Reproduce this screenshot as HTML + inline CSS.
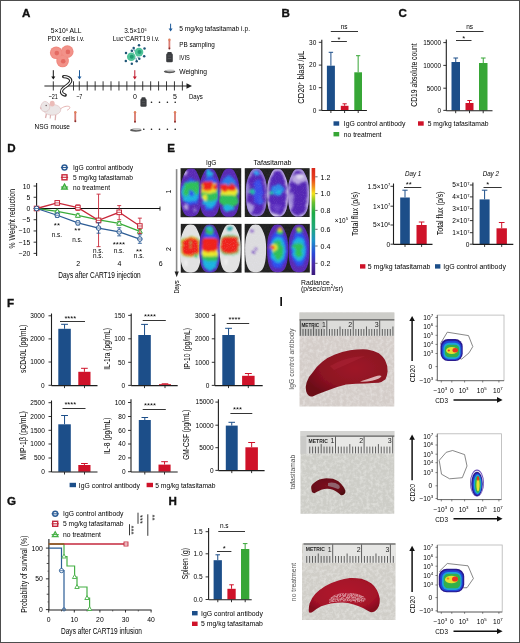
<!DOCTYPE html><html><head><meta charset="utf-8"><style>html,body{margin:0;padding:0;background:#fff;overflow:hidden}svg{display:block;will-change:transform}text{font-family:"Liberation Sans",sans-serif}</style></head><body>
<svg width="520" height="643" viewBox="0 0 520 643">
<rect x="0" y="0" width="520" height="643" fill="#fff"/>
<text x="21.90" y="16.70" font-size="11.6" fill="#111" font-weight="bold" stroke="#111" stroke-width="0.35">A</text>
<text x="50.70" y="33.40" font-size="7.4" textLength="30.80" lengthAdjust="spacingAndGlyphs">5×10<tspan dy="-2.6" font-size="4.2">6</tspan><tspan dy="2.6"> ALL</tspan></text>
<text x="47.60" y="40.90" font-size="7.4" textLength="36.90" lengthAdjust="spacingAndGlyphs">PDX cells i.v.</text>
<text x="124.20" y="33.40" font-size="7.4" textLength="22.30" lengthAdjust="spacingAndGlyphs">3.5×10<tspan dy="-2.6" font-size="4.2">6</tspan></text>
<text x="112.70" y="40.90" font-size="7.4" textLength="46.90" lengthAdjust="spacingAndGlyphs">Luc<tspan dy="-2.6" font-size="4.2">+</tspan><tspan dy="2.6">CART19 i.v.</tspan></text>
<g filter="url(#bl3)">
<circle cx="56.2" cy="52.8" r="6.3" fill="#f08a80"/>
<circle cx="67.3" cy="51.6" r="6.3" fill="#f08a80"/>
<circle cx="62.6" cy="61.0" r="6.3" fill="#f08a80"/>
<circle cx="56.2" cy="52.8" r="5.3" fill="#f29289"/>
<circle cx="56.800000000000004" cy="53.099999999999994" r="2.3" fill="#e46a62"/>
<circle cx="67.3" cy="51.6" r="5.3" fill="#f29289"/>
<circle cx="67.89999999999999" cy="51.9" r="2.3" fill="#e46a62"/>
<circle cx="62.6" cy="61.0" r="5.3" fill="#f29289"/>
<circle cx="63.2" cy="61.3" r="2.3" fill="#e46a62"/>
</g>
<line x1="139.30" y1="58.75" x2="137.25" y2="56.58" stroke="#2e6d9a" stroke-width="0.8"/>
<line x1="136.70" y1="61.35" x2="135.95" y2="57.88" stroke="#2e6d9a" stroke-width="0.8"/>
<line x1="133.70" y1="48.10" x2="134.45" y2="51.25" stroke="#2e6d9a" stroke-width="0.8"/>
<line x1="131.80" y1="50.70" x2="133.50" y2="52.55" stroke="#2e6d9a" stroke-width="0.8"/>
<circle cx="139.0" cy="52.1" r="4.3" fill="#52c49a"/>
<circle cx="139.5" cy="52.1" r="2.0" fill="#1f9b73"/>
<circle cx="131.25" cy="56.7" r="4.3" fill="#52c49a"/>
<circle cx="131.75" cy="56.7" r="2.0" fill="#1f9b73"/>
<circle cx="139" cy="45.2" r="1.25" fill="#1f5577"/>
<circle cx="144.5" cy="48.4" r="1.25" fill="#1f5577"/>
<circle cx="144.2" cy="56.2" r="1.25" fill="#1f5577"/>
<circle cx="139.3" cy="58.75" r="1.25" fill="#1f5577"/>
<circle cx="136.7" cy="61.35" r="1.25" fill="#1f5577"/>
<circle cx="131.8" cy="63.7" r="1.25" fill="#1f5577"/>
<circle cx="125.8" cy="61.1" r="1.25" fill="#1f5577"/>
<circle cx="126" cy="53" r="1.25" fill="#1f5577"/>
<circle cx="131.8" cy="50.7" r="1.25" fill="#1f5577"/>
<circle cx="133.7" cy="48.1" r="1.25" fill="#1f5577"/>
<line x1="44.40" y1="86.00" x2="188.50" y2="86.00" stroke="#222" stroke-width="1.2"/>
<path d="M186.5 83.2 L192 86.0 L186.5 88.8 Z" fill="#222"/>
<line x1="53.30" y1="81.30" x2="53.30" y2="90.50" stroke="#222" stroke-width="0.9"/>
<line x1="73.50" y1="81.30" x2="73.50" y2="90.50" stroke="#222" stroke-width="0.9"/>
<line x1="79.29" y1="81.30" x2="79.29" y2="90.50" stroke="#222" stroke-width="0.9"/>
<line x1="87.22" y1="81.30" x2="87.22" y2="90.50" stroke="#222" stroke-width="0.9"/>
<line x1="95.15" y1="81.30" x2="95.15" y2="90.50" stroke="#222" stroke-width="0.9"/>
<line x1="103.08" y1="81.30" x2="103.08" y2="90.50" stroke="#222" stroke-width="0.9"/>
<line x1="111.01" y1="81.30" x2="111.01" y2="90.50" stroke="#222" stroke-width="0.9"/>
<line x1="118.94" y1="81.30" x2="118.94" y2="90.50" stroke="#222" stroke-width="0.9"/>
<line x1="126.87" y1="81.30" x2="126.87" y2="90.50" stroke="#222" stroke-width="0.9"/>
<line x1="134.80" y1="81.30" x2="134.80" y2="90.50" stroke="#222" stroke-width="0.9"/>
<line x1="142.73" y1="81.30" x2="142.73" y2="90.50" stroke="#222" stroke-width="0.9"/>
<line x1="150.66" y1="81.30" x2="150.66" y2="90.50" stroke="#222" stroke-width="0.9"/>
<line x1="158.59" y1="81.30" x2="158.59" y2="90.50" stroke="#222" stroke-width="0.9"/>
<line x1="166.52" y1="81.30" x2="166.52" y2="90.50" stroke="#222" stroke-width="0.9"/>
<line x1="174.45" y1="81.30" x2="174.45" y2="90.50" stroke="#222" stroke-width="0.9"/>
<line x1="182.38" y1="81.30" x2="182.38" y2="90.50" stroke="#222" stroke-width="0.9"/>
<path d="M63.6 76.6 C67.4 76.6 70.9 78.2 70.7 80.9 C70.5 83.6 66.2 85.9 63.6 88.0 C60.6 90.5 60.4 93.6 65.2 95.1" fill="none" stroke="#262626" stroke-width="3.3" stroke-linecap="round"/>
<path d="M63.6 76.6 C67.4 76.6 70.9 78.2 70.7 80.9 C70.5 83.6 66.2 85.9 63.6 88.0 C60.6 90.5 60.4 93.6 65.2 95.1" fill="none" stroke="#fff" stroke-width="1.1"/>
<line x1="53.30" y1="70.20" x2="53.30" y2="77.10" stroke="#111" stroke-width="1.0"/>
<path d="M51.3 76.6 L53.3 79.6 L55.3 76.6 Z" fill="#111"/>
<line x1="79.50" y1="70.20" x2="79.50" y2="77.10" stroke="#1d5a9a" stroke-width="1.0"/>
<path d="M77.5 76.6 L79.5 79.6 L81.5 76.6 Z" fill="#1d5a9a"/>
<line x1="134.80" y1="70.20" x2="134.80" y2="77.10" stroke="#c0182b" stroke-width="1.0"/>
<path d="M132.8 76.6 L134.8 79.6 L136.8 76.6 Z" fill="#c0182b"/>
<text x="48.50" y="99.40" font-size="7.0" textLength="9.40" lengthAdjust="spacingAndGlyphs">−21</text>
<text x="76.20" y="99.40" font-size="7.0" textLength="6.20" lengthAdjust="spacingAndGlyphs">−7</text>
<text x="135.00" y="99.40" font-size="7.0" text-anchor="middle">0</text>
<text x="175.00" y="99.40" font-size="7.0" text-anchor="middle">5</text>
<text x="188.90" y="99.40" font-size="7.0" textLength="13.80" lengthAdjust="spacingAndGlyphs">Days</text>
<line x1="170.60" y1="23.70" x2="170.60" y2="29.00" stroke="#1d5a9a" stroke-width="1.0"/>
<path d="M168.6 28.5 L170.6 31.5 L172.6 28.5 Z" fill="#1d5a9a"/>
<line x1="169.40" y1="39.70" x2="169.40" y2="48.00" stroke="#d06a60" stroke-width="1.7"/>
<line x1="169.40" y1="41.50" x2="169.40" y2="46.50" stroke="#e89088" stroke-width="0.6"/>
<circle cx="169.4" cy="39.7" r="1.2" fill="#e0805c"/>
<circle cx="169.4" cy="48.5" r="1.0" fill="#8a2a28"/>
<rect x="166.2" y="53.5" width="6.6" height="8.7" rx="1.3" fill="#3b3d40"/>
<rect x="167.2" y="52.0" width="4.6" height="2.5" rx="1" fill="#3b3d40"/>
<line x1="167.70" y1="56.00" x2="171.30" y2="56.00" stroke="#6a6c70" stroke-width="0.5"/>
<line x1="167.70" y1="58.50" x2="171.30" y2="58.50" stroke="#6a6c70" stroke-width="0.5"/>
<ellipse cx="169.55" cy="71.6" rx="5.75" ry="1.6" fill="#5a5a5a"/>
<ellipse cx="170.35000000000002" cy="70.5" rx="4.25" ry="1.1" fill="#c8c8c8"/>
<text x="179.20" y="30.90" font-size="7.7" textLength="70.80" lengthAdjust="spacingAndGlyphs">5 mg/kg tafasitamab i.p.</text>
<text x="179.20" y="46.50" font-size="7.7" textLength="35.60" lengthAdjust="spacingAndGlyphs">PB sampling</text>
<text x="179.20" y="59.70" font-size="7.7" textLength="10.60" lengthAdjust="spacingAndGlyphs">IVIS</text>
<text x="179.20" y="73.50" font-size="7.7" textLength="27.80" lengthAdjust="spacingAndGlyphs">Weighing</text>
<path d="M59.8 109.5 C63 106.5 67 105.6 69.4 106.6 C70.6 107.4 69.4 109.2 67.2 110.2" fill="none" stroke="#e2aaa8" stroke-width="0.9"/>
<line x1="46.40" y1="114.00" x2="45.50" y2="118.00" stroke="#dcb0b0" stroke-width="1.3"/>
<line x1="55.70" y1="114.50" x2="55.20" y2="120.30" stroke="#dcb0b0" stroke-width="1.3"/>
<line x1="50.50" y1="114.80" x2="50.20" y2="118.50" stroke="#dcb0b0" stroke-width="1.1"/>
<ellipse cx="52.2" cy="109.8" rx="8.6" ry="5.4" fill="#ebe6e6" stroke="#dcb8b8" stroke-width="0.6"/>
<path d="M40.4 107.6 C41 104.5 42.6 101.8 44.6 101.4 C47 101.2 49.2 103.5 49.8 106.2 C50 109.5 47.5 112 44.2 111.6 C42.2 111.3 40.6 109.6 40.4 107.6 Z" fill="#ebe6e6" stroke="#dcb8b8" stroke-width="0.6"/>
<ellipse cx="52.2" cy="103.6" rx="2.5" ry="2.9" fill="#ebbcb8"/>
<circle cx="46.2" cy="105.6" r="0.75" fill="#6a5a5a"/>
<ellipse cx="40.9" cy="107.9" rx="0.6" ry="0.5" fill="#d89090"/>
<line x1="75.30" y1="112.20" x2="75.30" y2="120.80" stroke="#d06a60" stroke-width="1.7"/>
<line x1="75.30" y1="114.00" x2="75.30" y2="119.30" stroke="#e89088" stroke-width="0.6"/>
<circle cx="75.3" cy="112.2" r="1.2" fill="#e0805c"/>
<circle cx="75.3" cy="121.3" r="1.0" fill="#8a2a28"/>
<text x="34.60" y="128.50" font-size="7.7" textLength="35.40" lengthAdjust="spacingAndGlyphs">NSG mouse</text>
<rect x="140.4" y="98.8" width="6.2" height="7.9" rx="1.3" fill="#3b3d40"/>
<rect x="141.4" y="97.3" width="4.2" height="2.5" rx="1" fill="#3b3d40"/>
<line x1="141.90" y1="101.30" x2="145.10" y2="101.30" stroke="#6a6c70" stroke-width="0.5"/>
<line x1="141.90" y1="103.80" x2="145.10" y2="103.80" stroke="#6a6c70" stroke-width="0.5"/>
<circle cx="151.5" cy="102.2" r="0.8" fill="#111"/>
<circle cx="159.5" cy="102.2" r="0.8" fill="#111"/>
<circle cx="167.4" cy="102.2" r="0.8" fill="#111"/>
<circle cx="175.2" cy="102.2" r="0.8" fill="#111"/>
<line x1="135.00" y1="112.20" x2="135.00" y2="121.20" stroke="#d06a60" stroke-width="1.7"/>
<line x1="135.00" y1="114.00" x2="135.00" y2="119.70" stroke="#e89088" stroke-width="0.6"/>
<circle cx="135.0" cy="112.2" r="1.2" fill="#e0805c"/>
<circle cx="135.0" cy="121.7" r="1.0" fill="#8a2a28"/>
<line x1="175.00" y1="112.20" x2="175.00" y2="121.20" stroke="#d06a60" stroke-width="1.7"/>
<line x1="175.00" y1="114.00" x2="175.00" y2="119.70" stroke="#e89088" stroke-width="0.6"/>
<circle cx="175.0" cy="112.2" r="1.2" fill="#e0805c"/>
<circle cx="175.0" cy="121.7" r="1.0" fill="#8a2a28"/>
<ellipse cx="135.8" cy="130.2" rx="5.799999999999997" ry="1.6" fill="#5a5a5a"/>
<ellipse cx="136.60000000000002" cy="129.1" rx="4.299999999999997" ry="1.1" fill="#c8c8c8"/>
<circle cx="143.8" cy="129.3" r="0.8" fill="#111"/>
<circle cx="151.5" cy="129.3" r="0.8" fill="#111"/>
<circle cx="159.5" cy="129.3" r="0.8" fill="#111"/>
<circle cx="167.4" cy="129.3" r="0.8" fill="#111"/>
<circle cx="175.2" cy="129.3" r="0.8" fill="#111"/>
<text x="281.40" y="16.50" font-size="11.6" fill="#111" font-weight="bold" stroke="#111" stroke-width="0.35">B</text>
<line x1="321.80" y1="39.70" x2="321.80" y2="110.50" stroke="#1e1e1e" stroke-width="1.1"/>
<line x1="318.80" y1="42.30" x2="321.80" y2="42.30" stroke="#1e1e1e" stroke-width="0.9"/>
<text x="316.30" y="44.64" font-size="6.5" text-anchor="end">30</text>
<line x1="318.80" y1="65.10" x2="321.80" y2="65.10" stroke="#1e1e1e" stroke-width="0.9"/>
<text x="316.30" y="67.44" font-size="6.5" text-anchor="end">20</text>
<line x1="318.80" y1="87.70" x2="321.80" y2="87.70" stroke="#1e1e1e" stroke-width="0.9"/>
<text x="316.30" y="90.04" font-size="6.5" text-anchor="end">10</text>
<line x1="318.80" y1="110.20" x2="321.80" y2="110.20" stroke="#1e1e1e" stroke-width="0.9"/>
<text x="316.30" y="112.54" font-size="6.5" text-anchor="end">0</text>
<rect x="326.90" y="65.70" width="8.00" height="44.60" fill="#1c4e89"/>
<line x1="330.90" y1="65.70" x2="330.90" y2="52.30" stroke="#1c4e89" stroke-width="1"/>
<line x1="328.70" y1="52.30" x2="333.10" y2="52.30" stroke="#1c4e89" stroke-width="1"/>
<rect x="340.80" y="105.80" width="7.70" height="4.50" fill="#cf1229"/>
<line x1="344.65" y1="105.80" x2="344.65" y2="103.80" stroke="#cf1229" stroke-width="1"/>
<line x1="342.53" y1="103.80" x2="346.77" y2="103.80" stroke="#cf1229" stroke-width="1"/>
<rect x="354.30" y="72.30" width="7.70" height="38.00" fill="#37a636"/>
<line x1="358.15" y1="72.30" x2="358.15" y2="55.70" stroke="#37a636" stroke-width="1"/>
<line x1="356.03" y1="55.70" x2="360.27" y2="55.70" stroke="#37a636" stroke-width="1"/>
<line x1="321.80" y1="110.50" x2="366.90" y2="110.50" stroke="#1e1e1e" stroke-width="1.1"/>
<line x1="330.90" y1="110.50" x2="330.90" y2="113.00" stroke="#1e1e1e" stroke-width="0.9"/>
<line x1="344.60" y1="110.50" x2="344.60" y2="113.00" stroke="#1e1e1e" stroke-width="0.9"/>
<line x1="358.20" y1="110.50" x2="358.20" y2="113.00" stroke="#1e1e1e" stroke-width="0.9"/>
<line x1="331.20" y1="41.50" x2="346.90" y2="41.50" stroke="#1e1e1e" stroke-width="0.9"/>
<text x="339.05" y="41.80" font-size="7.6" text-anchor="middle">*</text>
<line x1="330.80" y1="31.50" x2="358.00" y2="31.50" stroke="#1e1e1e" stroke-width="0.9"/>
<text x="344.20" y="28.80" font-size="6.5" text-anchor="middle">ns</text>
<text x="303.60" y="77.30" font-size="8.2" text-anchor="middle" textLength="53.00" lengthAdjust="spacingAndGlyphs" transform="rotate(-90 303.60 77.30)">CD20<tspan dy="-2.5" font-size="5">+</tspan><tspan dy="2.5"> blast /μL</tspan></text>
<rect x="333.50" y="121.30" width="5.70" height="4.40" fill="#1c4e89"/>
<text x="343.80" y="126.00" font-size="7.0" textLength="61.60" lengthAdjust="spacingAndGlyphs">IgG control antibody</text>
<rect x="333.50" y="132.00" width="5.70" height="4.40" fill="#37a636"/>
<text x="343.80" y="136.70" font-size="7.0" textLength="37.70" lengthAdjust="spacingAndGlyphs">no treatment</text>
<rect x="418.00" y="121.30" width="5.70" height="4.40" fill="#cf1229"/>
<text x="427.70" y="126.00" font-size="7.0" textLength="60.80" lengthAdjust="spacingAndGlyphs">5 mg/kg tafasitamab</text>
<text x="398.40" y="16.50" font-size="11.6" fill="#111" font-weight="bold" stroke="#111" stroke-width="0.35">C</text>
<line x1="446.30" y1="39.50" x2="446.30" y2="110.70" stroke="#1e1e1e" stroke-width="1.1"/>
<line x1="443.30" y1="42.60" x2="446.30" y2="42.60" stroke="#1e1e1e" stroke-width="0.9"/>
<text x="441.00" y="44.90" font-size="6.4" text-anchor="end">15000</text>
<line x1="443.30" y1="65.40" x2="446.30" y2="65.40" stroke="#1e1e1e" stroke-width="0.9"/>
<text x="441.00" y="67.70" font-size="6.4" text-anchor="end">10000</text>
<line x1="443.30" y1="88.20" x2="446.30" y2="88.20" stroke="#1e1e1e" stroke-width="0.9"/>
<text x="441.00" y="90.50" font-size="6.4" text-anchor="end">5000</text>
<line x1="443.30" y1="110.40" x2="446.30" y2="110.40" stroke="#1e1e1e" stroke-width="0.9"/>
<text x="441.00" y="112.70" font-size="6.4" text-anchor="end">0</text>
<rect x="451.50" y="62.00" width="8.50" height="48.40" fill="#1c4e89"/>
<line x1="455.75" y1="62.00" x2="455.75" y2="58.00" stroke="#1c4e89" stroke-width="1"/>
<line x1="453.41" y1="58.00" x2="458.09" y2="58.00" stroke="#1c4e89" stroke-width="1"/>
<rect x="465.50" y="103.00" width="8.00" height="7.40" fill="#cf1229"/>
<line x1="469.50" y1="103.00" x2="469.50" y2="100.50" stroke="#cf1229" stroke-width="1"/>
<line x1="467.30" y1="100.50" x2="471.70" y2="100.50" stroke="#cf1229" stroke-width="1"/>
<rect x="479.00" y="63.00" width="8.50" height="47.40" fill="#37a636"/>
<line x1="483.25" y1="63.00" x2="483.25" y2="58.00" stroke="#37a636" stroke-width="1"/>
<line x1="480.91" y1="58.00" x2="485.59" y2="58.00" stroke="#37a636" stroke-width="1"/>
<line x1="446.30" y1="110.70" x2="492.50" y2="110.70" stroke="#1e1e1e" stroke-width="1.1"/>
<line x1="455.70" y1="110.70" x2="455.70" y2="113.20" stroke="#1e1e1e" stroke-width="0.9"/>
<line x1="469.50" y1="110.70" x2="469.50" y2="113.20" stroke="#1e1e1e" stroke-width="0.9"/>
<line x1="483.20" y1="110.70" x2="483.20" y2="113.20" stroke="#1e1e1e" stroke-width="0.9"/>
<line x1="456.00" y1="40.50" x2="471.50" y2="40.50" stroke="#1e1e1e" stroke-width="0.9"/>
<text x="463.75" y="41.10" font-size="7.6" text-anchor="middle">*</text>
<line x1="456.00" y1="31.50" x2="483.50" y2="31.50" stroke="#1e1e1e" stroke-width="0.9"/>
<text x="469.70" y="29.00" font-size="6.5" text-anchor="middle">ns</text>
<text x="417.40" y="75.00" font-size="8.4" text-anchor="middle" textLength="63.50" lengthAdjust="spacingAndGlyphs" transform="rotate(-90 417.40 75.00)">CD19 absolute count</text>
<text x="7.20" y="152.00" font-size="11.6" fill="#111" font-weight="bold" stroke="#111" stroke-width="0.35">D</text>
<line x1="36.60" y1="183.10" x2="36.60" y2="256.10" stroke="#1e1e1e" stroke-width="1.1"/>
<line x1="33.60" y1="186.05" x2="36.60" y2="186.05" stroke="#1e1e1e" stroke-width="0.9"/>
<text x="30.20" y="188.50" font-size="6.8" text-anchor="end">10</text>
<line x1="33.60" y1="197.28" x2="36.60" y2="197.28" stroke="#1e1e1e" stroke-width="0.9"/>
<text x="30.20" y="199.72" font-size="6.8" text-anchor="end">5</text>
<line x1="33.60" y1="208.50" x2="36.60" y2="208.50" stroke="#1e1e1e" stroke-width="0.9"/>
<text x="30.20" y="210.95" font-size="6.8" text-anchor="end">0</text>
<line x1="33.60" y1="219.72" x2="36.60" y2="219.72" stroke="#1e1e1e" stroke-width="0.9"/>
<text x="30.20" y="222.17" font-size="6.8" text-anchor="end">−5</text>
<line x1="33.60" y1="230.95" x2="36.60" y2="230.95" stroke="#1e1e1e" stroke-width="0.9"/>
<text x="30.20" y="233.40" font-size="6.8" text-anchor="end">−10</text>
<line x1="33.60" y1="242.18" x2="36.60" y2="242.18" stroke="#1e1e1e" stroke-width="0.9"/>
<text x="30.20" y="244.62" font-size="6.8" text-anchor="end">−15</text>
<line x1="33.60" y1="253.40" x2="36.60" y2="253.40" stroke="#1e1e1e" stroke-width="0.9"/>
<text x="30.20" y="255.85" font-size="6.8" text-anchor="end">−20</text>
<line x1="36.60" y1="208.50" x2="160.00" y2="208.50" stroke="#111" stroke-width="1.1"/>
<line x1="160.00" y1="206.50" x2="160.00" y2="210.70" stroke="#111" stroke-width="0.9"/>
<text x="78.20" y="265.50" font-size="7.0" text-anchor="middle">2</text>
<text x="119.50" y="265.50" font-size="7.0" text-anchor="middle">4</text>
<text x="160.80" y="265.50" font-size="7.0" text-anchor="middle">6</text>
<text x="99.50" y="278.00" font-size="8.4" text-anchor="middle" textLength="82.50" lengthAdjust="spacingAndGlyphs">Days after CART19 injection</text>
<text x="14.60" y="218.70" font-size="8.8" text-anchor="middle" textLength="59.40" lengthAdjust="spacingAndGlyphs" transform="rotate(-90 14.60 218.70)">% Weight reduction</text>
<line x1="57.25" y1="210.30" x2="57.25" y2="212.54" stroke="#3aac3a" stroke-width="0.9"/>
<line x1="55.25" y1="210.30" x2="59.25" y2="210.30" stroke="#3aac3a" stroke-width="0.9"/>
<line x1="55.25" y1="212.54" x2="59.25" y2="212.54" stroke="#3aac3a" stroke-width="0.9"/>
<line x1="77.90" y1="213.89" x2="77.90" y2="217.03" stroke="#3aac3a" stroke-width="0.9"/>
<line x1="75.90" y1="213.89" x2="79.90" y2="213.89" stroke="#3aac3a" stroke-width="0.9"/>
<line x1="75.90" y1="217.03" x2="79.90" y2="217.03" stroke="#3aac3a" stroke-width="0.9"/>
<line x1="98.55" y1="218.38" x2="98.55" y2="221.52" stroke="#3aac3a" stroke-width="0.9"/>
<line x1="96.55" y1="218.38" x2="100.55" y2="218.38" stroke="#3aac3a" stroke-width="0.9"/>
<line x1="96.55" y1="221.52" x2="100.55" y2="221.52" stroke="#3aac3a" stroke-width="0.9"/>
<line x1="119.20" y1="221.52" x2="119.20" y2="225.11" stroke="#3aac3a" stroke-width="0.9"/>
<line x1="117.20" y1="221.52" x2="121.20" y2="221.52" stroke="#3aac3a" stroke-width="0.9"/>
<line x1="117.20" y1="225.11" x2="121.20" y2="225.11" stroke="#3aac3a" stroke-width="0.9"/>
<line x1="139.85" y1="229.60" x2="139.85" y2="233.19" stroke="#3aac3a" stroke-width="0.9"/>
<line x1="137.85" y1="229.60" x2="141.85" y2="229.60" stroke="#3aac3a" stroke-width="0.9"/>
<line x1="137.85" y1="233.19" x2="141.85" y2="233.19" stroke="#3aac3a" stroke-width="0.9"/>
<path d="M36.60 208.50 L57.25 211.42 L77.90 215.46 L98.55 219.95 L119.20 223.32 L139.85 231.40" fill="none" stroke="#3aac3a" stroke-width="1.3"/>
<path d="M36.60 205.90 L39.10 210.30 L34.10 210.30 Z" fill="#fff" stroke="#3aac3a" stroke-width="1"/>
<path d="M57.25 208.82 L59.75 213.22 L54.75 213.22 Z" fill="#fff" stroke="#3aac3a" stroke-width="1"/>
<path d="M77.90 212.86 L80.40 217.26 L75.40 217.26 Z" fill="#fff" stroke="#3aac3a" stroke-width="1"/>
<path d="M98.55 217.35 L101.05 221.75 L96.05 221.75 Z" fill="#fff" stroke="#3aac3a" stroke-width="1"/>
<path d="M119.20 220.72 L121.70 225.12 L116.70 225.12 Z" fill="#fff" stroke="#3aac3a" stroke-width="1"/>
<path d="M139.85 228.80 L142.35 233.20 L137.35 233.20 Z" fill="#fff" stroke="#3aac3a" stroke-width="1"/>
<line x1="57.25" y1="200.87" x2="57.25" y2="204.91" stroke="#c8283a" stroke-width="0.9"/>
<line x1="55.25" y1="200.87" x2="59.25" y2="200.87" stroke="#c8283a" stroke-width="0.9"/>
<line x1="55.25" y1="204.91" x2="59.25" y2="204.91" stroke="#c8283a" stroke-width="0.9"/>
<line x1="77.90" y1="204.91" x2="77.90" y2="210.30" stroke="#c8283a" stroke-width="0.9"/>
<line x1="75.90" y1="204.91" x2="79.90" y2="204.91" stroke="#c8283a" stroke-width="0.9"/>
<line x1="75.90" y1="210.30" x2="79.90" y2="210.30" stroke="#c8283a" stroke-width="0.9"/>
<line x1="98.55" y1="194.13" x2="98.55" y2="246.66" stroke="#c8283a" stroke-width="0.9"/>
<line x1="96.55" y1="194.13" x2="100.55" y2="194.13" stroke="#c8283a" stroke-width="0.9"/>
<line x1="96.55" y1="246.66" x2="100.55" y2="246.66" stroke="#c8283a" stroke-width="0.9"/>
<line x1="119.20" y1="205.58" x2="119.20" y2="219.72" stroke="#c8283a" stroke-width="0.9"/>
<line x1="117.20" y1="205.58" x2="121.20" y2="205.58" stroke="#c8283a" stroke-width="0.9"/>
<line x1="117.20" y1="219.72" x2="121.20" y2="219.72" stroke="#c8283a" stroke-width="0.9"/>
<line x1="139.85" y1="218.15" x2="139.85" y2="233.64" stroke="#c8283a" stroke-width="0.9"/>
<line x1="137.85" y1="218.15" x2="141.85" y2="218.15" stroke="#c8283a" stroke-width="0.9"/>
<line x1="137.85" y1="233.64" x2="141.85" y2="233.64" stroke="#c8283a" stroke-width="0.9"/>
<path d="M36.60 208.50 L57.25 202.89 L77.90 207.60 L98.55 220.40 L119.20 212.32 L139.85 226.01" fill="none" stroke="#c8283a" stroke-width="1.3"/>
<rect x="34.30" y="206.20" width="4.6" height="4.6" fill="#fff" stroke="#c8283a" stroke-width="1"/>
<line x1="34.30" y1="208.50" x2="38.90" y2="208.50" stroke="#c8283a" stroke-width="0.8"/>
<rect x="54.95" y="200.59" width="4.6" height="4.6" fill="#fff" stroke="#c8283a" stroke-width="1"/>
<line x1="54.95" y1="202.89" x2="59.55" y2="202.89" stroke="#c8283a" stroke-width="0.8"/>
<rect x="75.60" y="205.30" width="4.6" height="4.6" fill="#fff" stroke="#c8283a" stroke-width="1"/>
<line x1="75.60" y1="207.60" x2="80.20" y2="207.60" stroke="#c8283a" stroke-width="0.8"/>
<rect x="96.25" y="218.10" width="4.6" height="4.6" fill="#fff" stroke="#c8283a" stroke-width="1"/>
<line x1="96.25" y1="220.40" x2="100.85" y2="220.40" stroke="#c8283a" stroke-width="0.8"/>
<rect x="116.90" y="210.02" width="4.6" height="4.6" fill="#fff" stroke="#c8283a" stroke-width="1"/>
<line x1="116.90" y1="212.32" x2="121.50" y2="212.32" stroke="#c8283a" stroke-width="0.8"/>
<rect x="137.55" y="223.71" width="4.6" height="4.6" fill="#fff" stroke="#c8283a" stroke-width="1"/>
<line x1="137.55" y1="226.01" x2="142.15" y2="226.01" stroke="#c8283a" stroke-width="0.8"/>
<line x1="57.25" y1="212.99" x2="57.25" y2="217.48" stroke="#2c5c95" stroke-width="0.9"/>
<line x1="55.25" y1="212.99" x2="59.25" y2="212.99" stroke="#2c5c95" stroke-width="0.9"/>
<line x1="55.25" y1="217.48" x2="59.25" y2="217.48" stroke="#2c5c95" stroke-width="0.9"/>
<line x1="77.90" y1="220.85" x2="77.90" y2="224.89" stroke="#2c5c95" stroke-width="0.9"/>
<line x1="75.90" y1="220.85" x2="79.90" y2="220.85" stroke="#2c5c95" stroke-width="0.9"/>
<line x1="75.90" y1="224.89" x2="79.90" y2="224.89" stroke="#2c5c95" stroke-width="0.9"/>
<line x1="98.55" y1="222.87" x2="98.55" y2="233.19" stroke="#2c5c95" stroke-width="0.9"/>
<line x1="96.55" y1="222.87" x2="100.55" y2="222.87" stroke="#2c5c95" stroke-width="0.9"/>
<line x1="96.55" y1="233.19" x2="100.55" y2="233.19" stroke="#2c5c95" stroke-width="0.9"/>
<line x1="119.20" y1="227.81" x2="119.20" y2="235.89" stroke="#2c5c95" stroke-width="0.9"/>
<line x1="117.20" y1="227.81" x2="121.20" y2="227.81" stroke="#2c5c95" stroke-width="0.9"/>
<line x1="117.20" y1="235.89" x2="121.20" y2="235.89" stroke="#2c5c95" stroke-width="0.9"/>
<line x1="139.85" y1="234.77" x2="139.85" y2="243.30" stroke="#2c5c95" stroke-width="0.9"/>
<line x1="137.85" y1="234.77" x2="141.85" y2="234.77" stroke="#2c5c95" stroke-width="0.9"/>
<line x1="137.85" y1="243.30" x2="141.85" y2="243.30" stroke="#2c5c95" stroke-width="0.9"/>
<path d="M36.60 208.50 L57.25 215.24 L77.90 222.87 L98.55 228.03 L119.20 231.85 L139.85 239.03" fill="none" stroke="#2c5c95" stroke-width="1.3"/>
<circle cx="36.60" cy="208.50" r="2.3" fill="#fff" stroke="#2c5c95" stroke-width="1"/>
<line x1="34.30" y1="208.50" x2="38.90" y2="208.50" stroke="#2c5c95" stroke-width="0.8"/>
<circle cx="57.25" cy="215.24" r="2.3" fill="#fff" stroke="#2c5c95" stroke-width="1"/>
<line x1="54.95" y1="215.24" x2="59.55" y2="215.24" stroke="#2c5c95" stroke-width="0.8"/>
<circle cx="77.90" cy="222.87" r="2.3" fill="#fff" stroke="#2c5c95" stroke-width="1"/>
<line x1="75.60" y1="222.87" x2="80.20" y2="222.87" stroke="#2c5c95" stroke-width="0.8"/>
<circle cx="98.55" cy="228.03" r="2.3" fill="#fff" stroke="#2c5c95" stroke-width="1"/>
<line x1="96.25" y1="228.03" x2="100.85" y2="228.03" stroke="#2c5c95" stroke-width="0.8"/>
<circle cx="119.20" cy="231.85" r="2.3" fill="#fff" stroke="#2c5c95" stroke-width="1"/>
<line x1="116.90" y1="231.85" x2="121.50" y2="231.85" stroke="#2c5c95" stroke-width="0.8"/>
<circle cx="139.85" cy="239.03" r="2.3" fill="#fff" stroke="#2c5c95" stroke-width="1"/>
<line x1="137.55" y1="239.03" x2="142.15" y2="239.03" stroke="#2c5c95" stroke-width="0.8"/>
<text x="56.90" y="228.40" font-size="7.8" text-anchor="middle">**</text>
<text x="56.90" y="237.00" font-size="6.4" text-anchor="middle">n.s.</text>
<text x="77.40" y="232.90" font-size="7.8" text-anchor="middle">**</text>
<text x="77.40" y="241.50" font-size="6.4" text-anchor="middle">n.s.</text>
<text x="98.10" y="252.60" font-size="6.4" text-anchor="middle">n.s.</text>
<text x="98.10" y="258.10" font-size="6.4" text-anchor="middle">n.s.</text>
<text x="118.90" y="246.90" font-size="7.8" text-anchor="middle">****</text>
<text x="118.90" y="252.60" font-size="6.4" text-anchor="middle">n.s.</text>
<text x="139.00" y="253.60" font-size="7.8" text-anchor="middle">**</text>
<text x="139.00" y="258.10" font-size="6.4" text-anchor="middle">n.s.</text>
<circle cx="64.5" cy="167.5" r="2.5" fill="#fff" stroke="#2c5c95" stroke-width="1.4"/>
<line x1="60.90" y1="167.50" x2="68.10" y2="167.50" stroke="#2c5c95" stroke-width="1.1"/>
<text x="73.00" y="170.10" font-size="7.2" textLength="60.00" lengthAdjust="spacingAndGlyphs">IgG control antibody</text>
<rect x="62.0" y="174.8" width="5" height="5" fill="#fff" stroke="#c8283a" stroke-width="1.4"/>
<line x1="60.90" y1="177.30" x2="68.10" y2="177.30" stroke="#c8283a" stroke-width="1.1"/>
<text x="73.00" y="179.90" font-size="7.2" textLength="60.00" lengthAdjust="spacingAndGlyphs">5 mg/kg tafasitamab</text>
<path d="M64.5 184.1 L67.3 189.0 L61.7 189.0 Z" fill="#fff" stroke="#3aac3a" stroke-width="1.3"/>
<line x1="60.90" y1="187.00" x2="68.10" y2="187.00" stroke="#3aac3a" stroke-width="1.1"/>
<text x="73.00" y="189.60" font-size="7.2" textLength="37.00" lengthAdjust="spacingAndGlyphs">no treatment</text>
<text x="167.20" y="151.90" font-size="11.6" fill="#111" font-weight="bold" stroke="#111" stroke-width="0.35">E</text>
<text x="413.20" y="176.30" font-size="7.2" text-anchor="middle" font-style="italic" textLength="16.30" lengthAdjust="spacingAndGlyphs">Day 1</text>
<line x1="393.50" y1="183.50" x2="393.50" y2="244.40" stroke="#1e1e1e" stroke-width="1.1"/>
<line x1="390.50" y1="186.30" x2="393.50" y2="186.30" stroke="#1e1e1e" stroke-width="0.9"/>
<text x="390.20" y="188.68" font-size="6.6" text-anchor="end">1.5×10<tspan dy="-2.3" font-size="4">7</tspan></text>
<line x1="390.50" y1="206.20" x2="393.50" y2="206.20" stroke="#1e1e1e" stroke-width="0.9"/>
<text x="390.20" y="208.58" font-size="6.6" text-anchor="end">1×10<tspan dy="-2.3" font-size="4">7</tspan></text>
<line x1="390.50" y1="225.00" x2="393.50" y2="225.00" stroke="#1e1e1e" stroke-width="0.9"/>
<text x="390.20" y="227.38" font-size="6.6" text-anchor="end">5×10<tspan dy="-2.3" font-size="4">6</tspan></text>
<line x1="390.50" y1="244.20" x2="393.50" y2="244.20" stroke="#1e1e1e" stroke-width="0.9"/>
<text x="390.20" y="246.58" font-size="6.6" text-anchor="end">0</text>
<rect x="400.20" y="197.50" width="9.60" height="46.70" fill="#1c4e89"/>
<line x1="405.00" y1="197.50" x2="405.00" y2="190.20" stroke="#1c4e89" stroke-width="1"/>
<line x1="402.36" y1="190.20" x2="407.64" y2="190.20" stroke="#1c4e89" stroke-width="1"/>
<rect x="416.50" y="225.00" width="10.20" height="19.20" fill="#cf1229"/>
<line x1="421.60" y1="225.00" x2="421.60" y2="222.00" stroke="#cf1229" stroke-width="1"/>
<line x1="418.80" y1="222.00" x2="424.41" y2="222.00" stroke="#cf1229" stroke-width="1"/>
<line x1="393.50" y1="244.40" x2="432.50" y2="244.40" stroke="#1e1e1e" stroke-width="1.1"/>
<line x1="405.00" y1="244.40" x2="405.00" y2="246.90" stroke="#1e1e1e" stroke-width="0.9"/>
<line x1="421.60" y1="244.40" x2="421.60" y2="246.90" stroke="#1e1e1e" stroke-width="0.9"/>
<line x1="404.00" y1="187.50" x2="421.30" y2="187.50" stroke="#1e1e1e" stroke-width="0.9"/>
<text x="408.80" y="187.20" font-size="7.6" text-anchor="middle">**</text>
<text x="358.40" y="213.90" font-size="8.4" text-anchor="middle" textLength="44.00" lengthAdjust="spacingAndGlyphs" transform="rotate(-90 358.40 213.90)">Total flux (p/s)</text>
<text x="490.80" y="176.30" font-size="7.2" text-anchor="middle" font-style="italic" textLength="16.30" lengthAdjust="spacingAndGlyphs">Day 2</text>
<line x1="472.90" y1="182.50" x2="472.90" y2="244.40" stroke="#1e1e1e" stroke-width="1.1"/>
<line x1="469.90" y1="185.00" x2="472.90" y2="185.00" stroke="#1e1e1e" stroke-width="0.9"/>
<text x="469.40" y="187.38" font-size="6.6" text-anchor="end">5×10<tspan dy="-2.3" font-size="4">7</tspan></text>
<line x1="469.90" y1="196.90" x2="472.90" y2="196.90" stroke="#1e1e1e" stroke-width="0.9"/>
<text x="469.40" y="199.28" font-size="6.6" text-anchor="end">4×10<tspan dy="-2.3" font-size="4">7</tspan></text>
<line x1="469.90" y1="208.70" x2="472.90" y2="208.70" stroke="#1e1e1e" stroke-width="0.9"/>
<text x="469.40" y="211.08" font-size="6.6" text-anchor="end">3×10<tspan dy="-2.3" font-size="4">7</tspan></text>
<line x1="469.90" y1="220.60" x2="472.90" y2="220.60" stroke="#1e1e1e" stroke-width="0.9"/>
<text x="469.40" y="222.98" font-size="6.6" text-anchor="end">2×10<tspan dy="-2.3" font-size="4">7</tspan></text>
<line x1="469.90" y1="232.70" x2="472.90" y2="232.70" stroke="#1e1e1e" stroke-width="0.9"/>
<text x="469.40" y="235.08" font-size="6.6" text-anchor="end">1×10<tspan dy="-2.3" font-size="4">7</tspan></text>
<line x1="469.90" y1="244.20" x2="472.90" y2="244.20" stroke="#1e1e1e" stroke-width="0.9"/>
<text x="469.40" y="246.58" font-size="6.6" text-anchor="end">0</text>
<rect x="479.60" y="199.40" width="10.00" height="44.80" fill="#1c4e89"/>
<line x1="484.60" y1="199.40" x2="484.60" y2="190.20" stroke="#1c4e89" stroke-width="1"/>
<line x1="481.85" y1="190.20" x2="487.35" y2="190.20" stroke="#1c4e89" stroke-width="1"/>
<rect x="496.50" y="228.30" width="10.40" height="15.90" fill="#cf1229"/>
<line x1="501.70" y1="228.30" x2="501.70" y2="222.50" stroke="#cf1229" stroke-width="1"/>
<line x1="498.84" y1="222.50" x2="504.56" y2="222.50" stroke="#cf1229" stroke-width="1"/>
<line x1="472.90" y1="244.40" x2="513.30" y2="244.40" stroke="#1e1e1e" stroke-width="1.1"/>
<line x1="484.60" y1="244.40" x2="484.60" y2="246.90" stroke="#1e1e1e" stroke-width="0.9"/>
<line x1="501.70" y1="244.40" x2="501.70" y2="246.90" stroke="#1e1e1e" stroke-width="0.9"/>
<line x1="483.50" y1="187.50" x2="501.70" y2="187.50" stroke="#1e1e1e" stroke-width="0.9"/>
<text x="487.70" y="187.20" font-size="7.6" text-anchor="middle">*</text>
<text x="443.40" y="213.30" font-size="8.4" text-anchor="middle" textLength="44.00" lengthAdjust="spacingAndGlyphs" transform="rotate(-90 443.40 213.30)">Total flux (p/s)</text>
<rect x="360.00" y="264.20" width="5.40" height="4.40" fill="#cf1229"/>
<text x="367.80" y="268.90" font-size="7.0" textLength="62.60" lengthAdjust="spacingAndGlyphs">5 mg/kg tafasitamab</text>
<rect x="435.00" y="264.20" width="5.40" height="4.40" fill="#1c4e89"/>
<text x="443.30" y="268.90" font-size="7.0" textLength="62.60" lengthAdjust="spacingAndGlyphs">IgG control antibody</text>
<text x="6.90" y="307.00" font-size="11.6" fill="#111" font-weight="bold" stroke="#111" stroke-width="0.35">F</text>
<line x1="51.50" y1="313.50" x2="51.50" y2="385.60" stroke="#1e1e1e" stroke-width="1.1"/>
<line x1="48.50" y1="315.80" x2="51.50" y2="315.80" stroke="#1e1e1e" stroke-width="0.9"/>
<text x="44.60" y="318.14" font-size="6.5" text-anchor="end">3000</text>
<line x1="48.50" y1="338.90" x2="51.50" y2="338.90" stroke="#1e1e1e" stroke-width="0.9"/>
<text x="44.60" y="341.24" font-size="6.5" text-anchor="end">2000</text>
<line x1="48.50" y1="362.00" x2="51.50" y2="362.00" stroke="#1e1e1e" stroke-width="0.9"/>
<text x="44.60" y="364.34" font-size="6.5" text-anchor="end">1000</text>
<line x1="48.50" y1="385.30" x2="51.50" y2="385.30" stroke="#1e1e1e" stroke-width="0.9"/>
<text x="44.60" y="387.64" font-size="6.5" text-anchor="end">0</text>
<rect x="58.30" y="328.80" width="12.50" height="56.50" fill="#1c4e89"/>
<line x1="64.55" y1="328.80" x2="64.55" y2="324.30" stroke="#1c4e89" stroke-width="1"/>
<line x1="61.11" y1="324.30" x2="67.99" y2="324.30" stroke="#1c4e89" stroke-width="1"/>
<rect x="78.30" y="371.80" width="12.20" height="13.50" fill="#cf1229"/>
<line x1="84.40" y1="371.80" x2="84.40" y2="368.30" stroke="#cf1229" stroke-width="1"/>
<line x1="81.05" y1="368.30" x2="87.76" y2="368.30" stroke="#cf1229" stroke-width="1"/>
<line x1="51.50" y1="385.60" x2="97.50" y2="385.60" stroke="#1e1e1e" stroke-width="1.1"/>
<line x1="64.50" y1="385.60" x2="64.50" y2="388.10" stroke="#1e1e1e" stroke-width="0.9"/>
<line x1="84.50" y1="385.60" x2="84.50" y2="388.10" stroke="#1e1e1e" stroke-width="0.9"/>
<line x1="60.00" y1="321.50" x2="85.00" y2="321.50" stroke="#1e1e1e" stroke-width="0.9"/>
<text x="70.30" y="320.70" font-size="7.6" text-anchor="middle">****</text>
<text x="26.30" y="348.80" font-size="8.8" text-anchor="middle" textLength="48.20" lengthAdjust="spacingAndGlyphs" transform="rotate(-90 26.30 348.80)">sCD40L (pg/mL)</text>
<line x1="131.20" y1="313.50" x2="131.20" y2="385.60" stroke="#1e1e1e" stroke-width="1.1"/>
<line x1="128.20" y1="315.40" x2="131.20" y2="315.40" stroke="#1e1e1e" stroke-width="0.9"/>
<text x="125.20" y="317.74" font-size="6.5" text-anchor="end">150</text>
<line x1="128.20" y1="338.80" x2="131.20" y2="338.80" stroke="#1e1e1e" stroke-width="0.9"/>
<text x="125.20" y="341.14" font-size="6.5" text-anchor="end">100</text>
<line x1="128.20" y1="362.30" x2="131.20" y2="362.30" stroke="#1e1e1e" stroke-width="0.9"/>
<text x="125.20" y="364.64" font-size="6.5" text-anchor="end">50</text>
<line x1="128.20" y1="385.40" x2="131.20" y2="385.40" stroke="#1e1e1e" stroke-width="0.9"/>
<text x="125.20" y="387.74" font-size="6.5" text-anchor="end">0</text>
<rect x="138.30" y="335.00" width="12.50" height="50.40" fill="#1c4e89"/>
<line x1="144.55" y1="335.00" x2="144.55" y2="324.40" stroke="#1c4e89" stroke-width="1"/>
<line x1="141.11" y1="324.40" x2="147.99" y2="324.40" stroke="#1c4e89" stroke-width="1"/>
<rect x="159.00" y="384.20" width="12.00" height="1.20" fill="#cf1229"/>
<line x1="165.00" y1="384.20" x2="165.00" y2="383.80" stroke="#cf1229" stroke-width="1"/>
<line x1="161.70" y1="383.80" x2="168.30" y2="383.80" stroke="#cf1229" stroke-width="1"/>
<line x1="131.20" y1="385.60" x2="177.70" y2="385.60" stroke="#1e1e1e" stroke-width="1.1"/>
<line x1="144.50" y1="385.60" x2="144.50" y2="388.10" stroke="#1e1e1e" stroke-width="0.9"/>
<line x1="165.00" y1="385.60" x2="165.00" y2="388.10" stroke="#1e1e1e" stroke-width="0.9"/>
<line x1="142.70" y1="320.50" x2="165.80" y2="320.50" stroke="#1e1e1e" stroke-width="0.9"/>
<text x="150.00" y="319.00" font-size="7.6" text-anchor="middle">****</text>
<text x="110.00" y="348.90" font-size="8.8" text-anchor="middle" textLength="41.80" lengthAdjust="spacingAndGlyphs" transform="rotate(-90 110.00 348.90)">IL-1ra (pg/mL)</text>
<line x1="214.80" y1="313.50" x2="214.80" y2="385.60" stroke="#1e1e1e" stroke-width="1.1"/>
<line x1="211.80" y1="315.40" x2="214.80" y2="315.40" stroke="#1e1e1e" stroke-width="0.9"/>
<text x="209.40" y="317.74" font-size="6.5" text-anchor="end">3000</text>
<line x1="211.80" y1="338.80" x2="214.80" y2="338.80" stroke="#1e1e1e" stroke-width="0.9"/>
<text x="209.40" y="341.14" font-size="6.5" text-anchor="end">2000</text>
<line x1="211.80" y1="362.30" x2="214.80" y2="362.30" stroke="#1e1e1e" stroke-width="0.9"/>
<text x="209.40" y="364.64" font-size="6.5" text-anchor="end">1000</text>
<line x1="211.80" y1="385.40" x2="214.80" y2="385.40" stroke="#1e1e1e" stroke-width="0.9"/>
<text x="209.40" y="387.74" font-size="6.5" text-anchor="end">0</text>
<rect x="222.30" y="335.00" width="12.50" height="50.40" fill="#1c4e89"/>
<line x1="228.55" y1="335.00" x2="228.55" y2="328.30" stroke="#1c4e89" stroke-width="1"/>
<line x1="225.11" y1="328.30" x2="231.99" y2="328.30" stroke="#1c4e89" stroke-width="1"/>
<rect x="242.10" y="375.80" width="12.50" height="9.60" fill="#cf1229"/>
<line x1="248.35" y1="375.80" x2="248.35" y2="373.50" stroke="#cf1229" stroke-width="1"/>
<line x1="244.91" y1="373.50" x2="251.79" y2="373.50" stroke="#cf1229" stroke-width="1"/>
<line x1="214.80" y1="385.60" x2="262.70" y2="385.60" stroke="#1e1e1e" stroke-width="1.1"/>
<line x1="228.50" y1="385.60" x2="228.50" y2="388.10" stroke="#1e1e1e" stroke-width="0.9"/>
<line x1="248.30" y1="385.60" x2="248.30" y2="388.10" stroke="#1e1e1e" stroke-width="0.9"/>
<line x1="226.70" y1="323.50" x2="249.20" y2="323.50" stroke="#1e1e1e" stroke-width="0.9"/>
<text x="234.50" y="321.90" font-size="7.6" text-anchor="middle">****</text>
<text x="190.50" y="348.80" font-size="8.8" text-anchor="middle" textLength="41.60" lengthAdjust="spacingAndGlyphs" transform="rotate(-90 190.50 348.80)">IP-10 (pg/mL)</text>
<line x1="51.50" y1="400.50" x2="51.50" y2="472.00" stroke="#1e1e1e" stroke-width="1.1"/>
<line x1="48.50" y1="402.70" x2="51.50" y2="402.70" stroke="#1e1e1e" stroke-width="0.9"/>
<text x="44.80" y="405.04" font-size="6.5" text-anchor="end">2500</text>
<line x1="48.50" y1="416.50" x2="51.50" y2="416.50" stroke="#1e1e1e" stroke-width="0.9"/>
<text x="44.80" y="418.84" font-size="6.5" text-anchor="end">2000</text>
<line x1="48.50" y1="430.30" x2="51.50" y2="430.30" stroke="#1e1e1e" stroke-width="0.9"/>
<text x="44.80" y="432.64" font-size="6.5" text-anchor="end">1500</text>
<line x1="48.50" y1="444.00" x2="51.50" y2="444.00" stroke="#1e1e1e" stroke-width="0.9"/>
<text x="44.80" y="446.34" font-size="6.5" text-anchor="end">1000</text>
<line x1="48.50" y1="458.00" x2="51.50" y2="458.00" stroke="#1e1e1e" stroke-width="0.9"/>
<text x="44.80" y="460.34" font-size="6.5" text-anchor="end">500</text>
<line x1="48.50" y1="471.80" x2="51.50" y2="471.80" stroke="#1e1e1e" stroke-width="0.9"/>
<text x="44.80" y="474.14" font-size="6.5" text-anchor="end">0</text>
<rect x="58.30" y="424.30" width="12.50" height="47.50" fill="#1c4e89"/>
<line x1="64.55" y1="424.30" x2="64.55" y2="415.50" stroke="#1c4e89" stroke-width="1"/>
<line x1="61.11" y1="415.50" x2="67.99" y2="415.50" stroke="#1c4e89" stroke-width="1"/>
<rect x="78.30" y="465.00" width="12.20" height="6.80" fill="#cf1229"/>
<line x1="84.40" y1="465.00" x2="84.40" y2="463.50" stroke="#cf1229" stroke-width="1"/>
<line x1="81.05" y1="463.50" x2="87.76" y2="463.50" stroke="#cf1229" stroke-width="1"/>
<line x1="51.50" y1="472.00" x2="97.50" y2="472.00" stroke="#1e1e1e" stroke-width="1.1"/>
<line x1="64.50" y1="472.00" x2="64.50" y2="474.50" stroke="#1e1e1e" stroke-width="0.9"/>
<line x1="84.50" y1="472.00" x2="84.50" y2="474.50" stroke="#1e1e1e" stroke-width="0.9"/>
<line x1="62.50" y1="408.50" x2="85.50" y2="408.50" stroke="#1e1e1e" stroke-width="0.9"/>
<text x="70.30" y="407.00" font-size="7.6" text-anchor="middle">****</text>
<text x="26.00" y="435.40" font-size="8.8" text-anchor="middle" textLength="48.50" lengthAdjust="spacingAndGlyphs" transform="rotate(-90 26.00 435.40)">MIP-1β (pg/mL)</text>
<line x1="131.00" y1="399.20" x2="131.00" y2="472.00" stroke="#1e1e1e" stroke-width="1.1"/>
<line x1="128.00" y1="402.50" x2="131.00" y2="402.50" stroke="#1e1e1e" stroke-width="0.9"/>
<text x="125.50" y="404.84" font-size="6.5" text-anchor="end">100</text>
<line x1="128.00" y1="416.50" x2="131.00" y2="416.50" stroke="#1e1e1e" stroke-width="0.9"/>
<text x="125.50" y="418.84" font-size="6.5" text-anchor="end">80</text>
<line x1="128.00" y1="430.40" x2="131.00" y2="430.40" stroke="#1e1e1e" stroke-width="0.9"/>
<text x="125.50" y="432.74" font-size="6.5" text-anchor="end">60</text>
<line x1="128.00" y1="444.00" x2="131.00" y2="444.00" stroke="#1e1e1e" stroke-width="0.9"/>
<text x="125.50" y="446.34" font-size="6.5" text-anchor="end">40</text>
<line x1="128.00" y1="457.90" x2="131.00" y2="457.90" stroke="#1e1e1e" stroke-width="0.9"/>
<text x="125.50" y="460.24" font-size="6.5" text-anchor="end">20</text>
<line x1="128.00" y1="471.70" x2="131.00" y2="471.70" stroke="#1e1e1e" stroke-width="0.9"/>
<text x="125.50" y="474.04" font-size="6.5" text-anchor="end">0</text>
<rect x="138.80" y="420.00" width="12.00" height="51.70" fill="#1c4e89"/>
<line x1="144.80" y1="420.00" x2="144.80" y2="417.50" stroke="#1c4e89" stroke-width="1"/>
<line x1="141.50" y1="417.50" x2="148.10" y2="417.50" stroke="#1c4e89" stroke-width="1"/>
<rect x="158.50" y="464.60" width="12.10" height="7.10" fill="#cf1229"/>
<line x1="164.55" y1="464.60" x2="164.55" y2="461.70" stroke="#cf1229" stroke-width="1"/>
<line x1="161.22" y1="461.70" x2="167.88" y2="461.70" stroke="#cf1229" stroke-width="1"/>
<line x1="131.00" y1="472.00" x2="177.70" y2="472.00" stroke="#1e1e1e" stroke-width="1.1"/>
<line x1="144.80" y1="472.00" x2="144.80" y2="474.50" stroke="#1e1e1e" stroke-width="0.9"/>
<line x1="164.50" y1="472.00" x2="164.50" y2="474.50" stroke="#1e1e1e" stroke-width="0.9"/>
<line x1="142.70" y1="409.50" x2="165.80" y2="409.50" stroke="#1e1e1e" stroke-width="0.9"/>
<text x="150.00" y="408.00" font-size="7.6" text-anchor="middle">****</text>
<text x="110.00" y="435.70" font-size="8.8" text-anchor="middle" textLength="36.60" lengthAdjust="spacingAndGlyphs" transform="rotate(-90 110.00 435.70)">IL-8 (pg/mL)</text>
<line x1="218.40" y1="399.20" x2="218.40" y2="470.60" stroke="#1e1e1e" stroke-width="1.1"/>
<line x1="215.40" y1="402.10" x2="218.40" y2="402.10" stroke="#1e1e1e" stroke-width="0.9"/>
<text x="213.60" y="404.44" font-size="6.5" text-anchor="end">15000</text>
<line x1="215.40" y1="425.20" x2="218.40" y2="425.20" stroke="#1e1e1e" stroke-width="0.9"/>
<text x="213.60" y="427.54" font-size="6.5" text-anchor="end">10000</text>
<line x1="215.40" y1="447.70" x2="218.40" y2="447.70" stroke="#1e1e1e" stroke-width="0.9"/>
<text x="213.60" y="450.04" font-size="6.5" text-anchor="end">5000</text>
<line x1="215.40" y1="470.40" x2="218.40" y2="470.40" stroke="#1e1e1e" stroke-width="0.9"/>
<text x="213.60" y="472.74" font-size="6.5" text-anchor="end">0</text>
<rect x="225.80" y="425.60" width="11.90" height="44.80" fill="#1c4e89"/>
<line x1="231.75" y1="425.60" x2="231.75" y2="422.30" stroke="#1c4e89" stroke-width="1"/>
<line x1="228.48" y1="422.30" x2="235.02" y2="422.30" stroke="#1c4e89" stroke-width="1"/>
<rect x="245.40" y="447.30" width="12.50" height="23.10" fill="#cf1229"/>
<line x1="251.65" y1="447.30" x2="251.65" y2="442.50" stroke="#cf1229" stroke-width="1"/>
<line x1="248.21" y1="442.50" x2="255.09" y2="442.50" stroke="#cf1229" stroke-width="1"/>
<line x1="218.40" y1="470.60" x2="264.60" y2="470.60" stroke="#1e1e1e" stroke-width="1.1"/>
<line x1="231.80" y1="470.60" x2="231.80" y2="473.10" stroke="#1e1e1e" stroke-width="0.9"/>
<line x1="251.60" y1="470.60" x2="251.60" y2="473.10" stroke="#1e1e1e" stroke-width="0.9"/>
<line x1="230.40" y1="413.50" x2="252.30" y2="413.50" stroke="#1e1e1e" stroke-width="0.9"/>
<text x="237.50" y="411.90" font-size="7.6" text-anchor="middle">***</text>
<text x="189.50" y="434.80" font-size="8.8" text-anchor="middle" textLength="49.80" lengthAdjust="spacingAndGlyphs" transform="rotate(-90 189.50 434.80)">GM-CSF (pg/mL)</text>
<rect x="69.60" y="482.80" width="6.40" height="4.40" fill="#1c4e89"/>
<text x="78.80" y="487.50" font-size="7.0" textLength="61.20" lengthAdjust="spacingAndGlyphs">IgG control antibody</text>
<rect x="146.60" y="482.80" width="6.40" height="4.40" fill="#cf1229"/>
<text x="155.30" y="487.50" font-size="7.0" textLength="60.20" lengthAdjust="spacingAndGlyphs">5 mg/kg tafasitamab</text>
<text x="7.10" y="504.80" font-size="11.6" fill="#111" font-weight="bold" stroke="#111" stroke-width="0.35">G</text>
<line x1="48.90" y1="539.00" x2="48.90" y2="610.00" stroke="#1e1e1e" stroke-width="1.1"/>
<line x1="45.90" y1="548.10" x2="48.90" y2="548.10" stroke="#1e1e1e" stroke-width="0.9"/>
<text x="42.90" y="550.55" font-size="6.8" text-anchor="end">100</text>
<line x1="45.90" y1="578.85" x2="48.90" y2="578.85" stroke="#1e1e1e" stroke-width="0.9"/>
<text x="42.90" y="581.30" font-size="6.8" text-anchor="end">50</text>
<line x1="45.90" y1="609.60" x2="48.90" y2="609.60" stroke="#1e1e1e" stroke-width="0.9"/>
<text x="42.90" y="612.05" font-size="6.8" text-anchor="end">0</text>
<line x1="46.70" y1="594.23" x2="48.70" y2="594.23" stroke="#1e1e1e" stroke-width="0.8"/>
<line x1="46.70" y1="563.48" x2="48.70" y2="563.48" stroke="#1e1e1e" stroke-width="0.8"/>
<line x1="47.50" y1="601.91" x2="48.70" y2="601.91" stroke="#1e1e1e" stroke-width="0.6"/>
<line x1="47.50" y1="586.54" x2="48.70" y2="586.54" stroke="#1e1e1e" stroke-width="0.6"/>
<line x1="47.50" y1="571.16" x2="48.70" y2="571.16" stroke="#1e1e1e" stroke-width="0.6"/>
<line x1="47.50" y1="555.79" x2="48.70" y2="555.79" stroke="#1e1e1e" stroke-width="0.6"/>
<line x1="48.70" y1="610.00" x2="151.50" y2="610.00" stroke="#1e1e1e" stroke-width="1.1"/>
<line x1="48.70" y1="610.00" x2="48.70" y2="612.50" stroke="#1e1e1e" stroke-width="0.9"/>
<line x1="74.30" y1="610.00" x2="74.30" y2="612.50" stroke="#1e1e1e" stroke-width="0.9"/>
<line x1="99.90" y1="610.00" x2="99.90" y2="612.50" stroke="#1e1e1e" stroke-width="0.9"/>
<line x1="125.50" y1="610.00" x2="125.50" y2="612.50" stroke="#1e1e1e" stroke-width="0.9"/>
<line x1="151.10" y1="610.00" x2="151.10" y2="612.50" stroke="#1e1e1e" stroke-width="0.9"/>
<line x1="61.50" y1="610.00" x2="61.50" y2="611.50" stroke="#1e1e1e" stroke-width="0.6"/>
<line x1="87.10" y1="610.00" x2="87.10" y2="611.50" stroke="#1e1e1e" stroke-width="0.6"/>
<line x1="112.70" y1="610.00" x2="112.70" y2="611.50" stroke="#1e1e1e" stroke-width="0.6"/>
<line x1="138.30" y1="610.00" x2="138.30" y2="611.50" stroke="#1e1e1e" stroke-width="0.6"/>
<text x="48.70" y="621.60" font-size="6.8" text-anchor="middle">0</text>
<text x="74.30" y="621.60" font-size="6.8" text-anchor="middle">10</text>
<text x="99.90" y="621.60" font-size="6.8" text-anchor="middle">20</text>
<text x="125.50" y="621.60" font-size="6.8" text-anchor="middle">30</text>
<text x="151.10" y="621.60" font-size="6.8" text-anchor="middle">40</text>
<text x="101.50" y="634.00" font-size="8.4" text-anchor="middle" textLength="81.00" lengthAdjust="spacingAndGlyphs">Days after CART19 infusion</text>
<text x="26.90" y="574.20" font-size="8.6" text-anchor="middle" textLength="77.30" lengthAdjust="spacingAndGlyphs" transform="rotate(-90 26.90 574.20)">Probability of survival (%)</text>
<path d="M48.7 544.2 L64.0 544.2 L64.0 556.5 L67.0 556.5 L67.0 566.0 L74.6 566.0 L74.6 577.0 L77.0 577.0 L77.0 587.0 L87.0 587.0 L87.0 598.0 L89.6 598.0 L89.6 609.6" fill="none" stroke="#45b045" stroke-width="1.2"/>
<path d="M48.7 544.0 L126.0 544.0" fill="none" stroke="#c4283c" stroke-width="1.3"/>
<line x1="48.70" y1="544.00" x2="64.00" y2="544.00" stroke="#8a6a2a" stroke-width="1.4"/>
<path d="M48.7 548.1 L61.5 548.1 L61.5 570.6 L64.0 570.6 L64.0 609.6" fill="none" stroke="#2b5d96" stroke-width="1.2"/>
<circle cx="61.5" cy="570.6" r="2.1" fill="#fff" stroke="#2b5d96" stroke-width="0.9"/>
<line x1="59.40" y1="570.60" x2="63.60" y2="570.60" stroke="#2b5d96" stroke-width="0.7"/>
<circle cx="64.0" cy="609.4" r="1.6" fill="none" stroke="#2b5d96" stroke-width="0.8"/>
<rect x="124.0" y="542.0" width="4" height="4" fill="#fff" stroke="#c4283c" stroke-width="0.9"/>
<line x1="124.00" y1="544.00" x2="128.00" y2="544.00" stroke="#c4283c" stroke-width="0.7"/>
<path d="M64.0 554.1 L66.2 558.0 L61.8 558.0 Z" fill="#fff" stroke="#45b045" stroke-width="0.9"/>
<path d="M74.6 574.6 L76.8 578.5 L72.39999999999999 578.5 Z" fill="#fff" stroke="#45b045" stroke-width="0.9"/>
<path d="M77.0 584.6 L79.2 588.5 L74.8 588.5 Z" fill="#fff" stroke="#45b045" stroke-width="0.9"/>
<path d="M87.0 595.6 L89.2 599.5 L84.8 599.5 Z" fill="#fff" stroke="#45b045" stroke-width="0.9"/>
<path d="M89.6 606.6 L91.8 610.5 L87.39999999999999 610.5 Z" fill="#fff" stroke="#45b045" stroke-width="0.9"/>
<circle cx="55.2" cy="513.8" r="2.5" fill="#fff" stroke="#2b5d96" stroke-width="1.4"/>
<line x1="51.60" y1="513.80" x2="58.80" y2="513.80" stroke="#2b5d96" stroke-width="1.1"/>
<text x="63.00" y="516.40" font-size="7.2" textLength="60.50" lengthAdjust="spacingAndGlyphs">IgG control antibody</text>
<rect x="52.7" y="521.3" width="5" height="5" fill="#fff" stroke="#c4283c" stroke-width="1.4"/>
<line x1="51.60" y1="523.80" x2="58.80" y2="523.80" stroke="#c4283c" stroke-width="1.1"/>
<text x="63.00" y="526.40" font-size="7.2" textLength="60.50" lengthAdjust="spacingAndGlyphs">5 mg/kg tafasitamab</text>
<path d="M55.2 531.7 L58.0 536.6 L52.400000000000006 536.6 Z" fill="#fff" stroke="#45b045" stroke-width="1.3"/>
<line x1="51.60" y1="534.60" x2="58.80" y2="534.60" stroke="#45b045" stroke-width="1.1"/>
<text x="63.00" y="537.20" font-size="7.2" textLength="38.00" lengthAdjust="spacingAndGlyphs">no treatment</text>
<line x1="129.50" y1="524.20" x2="129.50" y2="535.30" stroke="#222" stroke-width="0.9"/>
<line x1="138.00" y1="512.70" x2="138.00" y2="523.80" stroke="#222" stroke-width="0.9"/>
<line x1="147.80" y1="514.30" x2="147.80" y2="535.80" stroke="#222" stroke-width="0.9"/>
<text x="136.30" y="530.00" font-size="7.6" text-anchor="middle" transform="rotate(-90 136.30 530.00)">***</text>
<text x="145.50" y="519.30" font-size="7.6" text-anchor="middle" transform="rotate(-90 145.50 519.30)">***</text>
<text x="156.60" y="517.60" font-size="7.6" text-anchor="middle" transform="rotate(-90 156.60 517.60)">**</text>
<text x="168.40" y="504.80" font-size="11.6" fill="#111" font-weight="bold" stroke="#111" stroke-width="0.35">H</text>
<line x1="208.60" y1="528.00" x2="208.60" y2="599.70" stroke="#1e1e1e" stroke-width="1.1"/>
<line x1="205.60" y1="531.70" x2="208.60" y2="531.70" stroke="#1e1e1e" stroke-width="0.9"/>
<text x="202.60" y="534.08" font-size="6.6" text-anchor="end">1.5</text>
<line x1="205.60" y1="553.80" x2="208.60" y2="553.80" stroke="#1e1e1e" stroke-width="0.9"/>
<text x="202.60" y="556.18" font-size="6.6" text-anchor="end">1.0</text>
<line x1="205.60" y1="576.90" x2="208.60" y2="576.90" stroke="#1e1e1e" stroke-width="0.9"/>
<text x="202.60" y="579.28" font-size="6.6" text-anchor="end">0.5</text>
<line x1="205.60" y1="599.50" x2="208.60" y2="599.50" stroke="#1e1e1e" stroke-width="0.9"/>
<text x="202.60" y="601.88" font-size="6.6" text-anchor="end">0.0</text>
<rect x="213.60" y="560.20" width="8.30" height="39.30" fill="#1c4e89"/>
<line x1="217.75" y1="560.20" x2="217.75" y2="554.80" stroke="#1c4e89" stroke-width="1"/>
<line x1="215.47" y1="554.80" x2="220.03" y2="554.80" stroke="#1c4e89" stroke-width="1"/>
<rect x="227.40" y="588.80" width="8.30" height="10.70" fill="#cf1229"/>
<line x1="231.55" y1="588.80" x2="231.55" y2="584.80" stroke="#cf1229" stroke-width="1"/>
<line x1="229.27" y1="584.80" x2="233.83" y2="584.80" stroke="#cf1229" stroke-width="1"/>
<rect x="241.00" y="549.00" width="8.30" height="50.50" fill="#37a636"/>
<line x1="245.15" y1="549.00" x2="245.15" y2="543.60" stroke="#37a636" stroke-width="1"/>
<line x1="242.87" y1="543.60" x2="247.43" y2="543.60" stroke="#37a636" stroke-width="1"/>
<line x1="208.80" y1="599.70" x2="251.70" y2="599.70" stroke="#1e1e1e" stroke-width="1.1"/>
<line x1="217.80" y1="599.70" x2="217.80" y2="602.20" stroke="#1e1e1e" stroke-width="0.9"/>
<line x1="231.50" y1="599.70" x2="231.50" y2="602.20" stroke="#1e1e1e" stroke-width="0.9"/>
<line x1="245.20" y1="599.70" x2="245.20" y2="602.20" stroke="#1e1e1e" stroke-width="0.9"/>
<line x1="217.00" y1="551.50" x2="231.40" y2="551.50" stroke="#1e1e1e" stroke-width="0.9"/>
<text x="224.20" y="551.00" font-size="7.6" text-anchor="middle">*</text>
<line x1="218.30" y1="531.50" x2="245.00" y2="531.50" stroke="#1e1e1e" stroke-width="0.9"/>
<text x="224.30" y="528.40" font-size="6.5" text-anchor="middle">n.s</text>
<text x="187.60" y="563.60" font-size="8.6" text-anchor="middle" textLength="31.10" lengthAdjust="spacingAndGlyphs" transform="rotate(-90 187.60 563.60)">Spleen (g)</text>
<rect x="192.00" y="611.00" width="5.60" height="4.40" fill="#1c4e89"/>
<text x="201.00" y="615.80" font-size="7.0" textLength="61.90" lengthAdjust="spacingAndGlyphs">IgG control antibody</text>
<rect x="192.00" y="621.60" width="5.60" height="4.40" fill="#cf1229"/>
<text x="201.00" y="626.40" font-size="7.0" textLength="61.90" lengthAdjust="spacingAndGlyphs">5 mg/kg tafasitamab</text>
<defs>
<filter id="bl1" x="-50%" y="-50%" width="200%" height="200%"><feGaussianBlur stdDeviation="1.1"/></filter>
<filter id="bl2" x="-50%" y="-50%" width="200%" height="200%"><feGaussianBlur stdDeviation="0.7"/></filter>
<filter id="bl3" x="-50%" y="-50%" width="200%" height="200%"><feGaussianBlur stdDeviation="0.45"/></filter>
<filter id="tex" x="0" y="0" width="100%" height="100%"><feTurbulence type="fractalNoise" baseFrequency="0.55" numOctaves="2" seed="3" result="n"/><feColorMatrix in="n" type="matrix" values="0 0 0 0 0  0 0 0 0 0  0 0 0 0 0  0 0 0 -1.1 0.85" result="a"/><feComposite in="SourceGraphic" in2="a" operator="in"/></filter>
<linearGradient id="cbar" x1="0" y1="0" x2="0" y2="1">
<stop offset="0" stop-color="#d8261a"/><stop offset="0.1" stop-color="#e8401c"/><stop offset="0.17" stop-color="#f08a1e"/><stop offset="0.24" stop-color="#f2e21e"/>
<stop offset="0.32" stop-color="#6cc030"/><stop offset="0.42" stop-color="#1eaa46"/><stop offset="0.56" stop-color="#20a87a"/><stop offset="0.68" stop-color="#1e90c8"/>
<stop offset="0.8" stop-color="#2a48d8"/><stop offset="0.9" stop-color="#4a2aa8"/><stop offset="1" stop-color="#3a1a7a"/></linearGradient>
</defs>
<text x="211.20" y="164.60" font-size="7.5" text-anchor="middle" textLength="10.50" lengthAdjust="spacingAndGlyphs">IgG</text>
<text x="272.50" y="164.60" font-size="7.5" text-anchor="middle" textLength="38.00" lengthAdjust="spacingAndGlyphs">Tafasitamab</text>
<line x1="176.60" y1="169.10" x2="176.60" y2="272.50" stroke="#8a8a8a" stroke-width="1.6"/>
<path d="M174.6 271.6 L178.8 271.6 L176.7 277.2 Z" fill="#222"/>
<text x="171.20" y="191.50" font-size="7.0" text-anchor="middle" transform="rotate(-90 171.20 191.50)">1</text>
<text x="171.20" y="249.00" font-size="7.0" text-anchor="middle" transform="rotate(-90 171.20 249.00)">2</text>
<text x="178.80" y="287.00" font-size="7.2" text-anchor="middle" textLength="13.20" lengthAdjust="spacingAndGlyphs" transform="rotate(-90 178.80 287.00)">Days</text>
<defs>
<filter id="dsp" x="-20%" y="-20%" width="140%" height="140%"><feTurbulence type="fractalNoise" baseFrequency="0.22" numOctaves="2" seed="7" result="t"/><feDisplacementMap in="SourceGraphic" in2="t" scale="4" xChannelSelector="R" yChannelSelector="G" result="d"/><feGaussianBlur in="d" stdDeviation="1.05"/></filter>
<filter id="dsp2" x="-20%" y="-20%" width="140%" height="140%"><feTurbulence type="fractalNoise" baseFrequency="0.3" numOctaves="2" seed="11" result="t"/><feDisplacementMap in="SourceGraphic" in2="t" scale="3.2" xChannelSelector="R" yChannelSelector="G" result="d"/><feGaussianBlur in="d" stdDeviation="0.8"/></filter>
<filter id="spk" x="0" y="0" width="100%" height="100%"><feTurbulence type="fractalNoise" baseFrequency="0.9" numOctaves="1" seed="5" result="n"/><feColorMatrix in="n" type="matrix" values="0 0 0 0 0.85  0 0 0 0 0.8  0 0 0 0 0.95  0 0 0 -2.6 1.35"/></filter>
</defs>
<rect x="180.60" y="168.20" width="60.60" height="49.00" fill="#1f1f1f"/>
<rect x="180.6" y="168.2" width="60.599999999999994" height="49.0" fill="#3a3a3a" opacity="0.55" filter="url(#tex)"/>
<clipPath id="m1"><path d="M191.00 168.60 Q191.00 168.60 192.65 168.74 Q194.30 168.89 195.33 169.94 Q196.36 170.99 197.39 173.14 Q198.42 175.29 199.55 178.16 Q200.68 181.03 201.09 184.85 Q201.51 188.68 201.51 192.98 Q201.51 197.28 201.20 201.10 Q200.89 204.93 200.06 208.27 Q199.24 211.62 197.69 213.65 Q196.15 215.68 194.61 216.04 Q193.06 216.40 192.03 216.40 Q191.00 216.40 189.97 216.40 Q188.94 216.40 187.39 216.04 Q185.85 215.68 184.31 213.65 Q182.76 211.62 181.94 208.27 Q181.11 204.93 180.80 201.10 Q180.49 197.28 180.49 192.98 Q180.49 188.68 180.91 184.85 Q181.32 181.03 182.45 178.16 Q183.58 175.29 184.61 173.14 Q185.64 170.99 186.67 169.94 Q187.70 168.89 189.35 168.74 Z"/></clipPath>
<path d="M191.00 168.60 Q191.00 168.60 192.65 168.74 Q194.30 168.89 195.33 169.94 Q196.36 170.99 197.39 173.14 Q198.42 175.29 199.55 178.16 Q200.68 181.03 201.09 184.85 Q201.51 188.68 201.51 192.98 Q201.51 197.28 201.20 201.10 Q200.89 204.93 200.06 208.27 Q199.24 211.62 197.69 213.65 Q196.15 215.68 194.61 216.04 Q193.06 216.40 192.03 216.40 Q191.00 216.40 189.97 216.40 Q188.94 216.40 187.39 216.04 Q185.85 215.68 184.31 213.65 Q182.76 211.62 181.94 208.27 Q181.11 204.93 180.80 201.10 Q180.49 197.28 180.49 192.98 Q180.49 188.68 180.91 184.85 Q181.32 181.03 182.45 178.16 Q183.58 175.29 184.61 173.14 Q185.64 170.99 186.67 169.94 Q187.70 168.89 189.35 168.74 Z" fill="#5a2ab4"/>
<g clip-path="url(#m1)"><g filter="url(#dsp)">
<ellipse cx="184" cy="172" rx="3.5" ry="3" fill="#c8b8e8"/>
<ellipse cx="191" cy="192" rx="9.5" ry="13" fill="#2f56ee"/>
<rect x="181.50" y="184.50" width="17.00" height="17.00" rx="5.10" fill="#1eb4e0"/>
<rect x="184.80" y="181.70" width="14.40" height="9.60" rx="2.88" fill="#2ec05a"/>
<ellipse cx="186.5" cy="191" rx="3.0" ry="5.5" fill="#2ec05a"/>
<ellipse cx="196.5" cy="190" rx="2.6" ry="5" fill="#2ec05a"/>
<ellipse cx="191.5" cy="193" rx="2.2" ry="3.5" fill="#2f56ee"/>
<ellipse cx="186" cy="207" rx="2.4" ry="3" fill="#b0a0dc"/>
<ellipse cx="195" cy="210" rx="2" ry="2" fill="#8a70d0"/>
</g>
<rect x="179.7" y="168.6" width="22.6" height="47.80000000000001" filter="url(#spk)" opacity="0.12"/>
</g>
<clipPath id="m2"><path d="M209.80 168.60 Q209.80 168.60 211.45 168.74 Q213.10 168.89 214.13 169.95 Q215.16 171.01 216.19 173.18 Q217.22 175.35 218.35 178.24 Q219.48 181.13 219.89 184.99 Q220.31 188.84 220.31 193.18 Q220.31 197.52 220.00 201.38 Q219.69 205.23 218.86 208.61 Q218.04 211.98 216.50 214.03 Q214.95 216.08 213.41 216.44 Q211.86 216.80 210.83 216.80 Q209.80 216.80 208.77 216.80 Q207.74 216.80 206.19 216.44 Q204.65 216.08 203.11 214.03 Q201.56 211.98 200.74 208.61 Q199.91 205.23 199.60 201.38 Q199.29 197.52 199.29 193.18 Q199.29 188.84 199.71 184.99 Q200.12 181.13 201.25 178.24 Q202.38 175.35 203.41 173.18 Q204.44 171.01 205.47 169.95 Q206.50 168.89 208.15 168.74 Z"/></clipPath>
<path d="M209.80 168.60 Q209.80 168.60 211.45 168.74 Q213.10 168.89 214.13 169.95 Q215.16 171.01 216.19 173.18 Q217.22 175.35 218.35 178.24 Q219.48 181.13 219.89 184.99 Q220.31 188.84 220.31 193.18 Q220.31 197.52 220.00 201.38 Q219.69 205.23 218.86 208.61 Q218.04 211.98 216.50 214.03 Q214.95 216.08 213.41 216.44 Q211.86 216.80 210.83 216.80 Q209.80 216.80 208.77 216.80 Q207.74 216.80 206.19 216.44 Q204.65 216.08 203.11 214.03 Q201.56 211.98 200.74 208.61 Q199.91 205.23 199.60 201.38 Q199.29 197.52 199.29 193.18 Q199.29 188.84 199.71 184.99 Q200.12 181.13 201.25 178.24 Q202.38 175.35 203.41 173.18 Q204.44 171.01 205.47 169.95 Q206.50 168.89 208.15 168.74 Z" fill="#5a2ab4"/>
<g clip-path="url(#m2)"><g filter="url(#dsp)">
<ellipse cx="210" cy="193" rx="9" ry="17" fill="#2f56ee"/>
<ellipse cx="209" cy="173" rx="3.5" ry="3.5" fill="#1eb4e0"/>
<ellipse cx="210" cy="198" rx="8" ry="10" fill="#1eb4e0"/>
<rect x="202.00" y="185.50" width="16.00" height="15.00" rx="4.50" fill="#2ec05a"/>
<rect x="201.20" y="182.40" width="15.60" height="11.20" rx="3.36" fill="#eaea2a"/>
<rect x="202.40" y="181.60" width="10.80" height="8.80" rx="2.64" fill="#f0221a"/>
<ellipse cx="215.6" cy="186.5" rx="1.8" ry="2.4" fill="#f0221a"/>
<ellipse cx="205" cy="198" rx="2" ry="3" fill="#eaea2a"/>
</g>
<rect x="198.5" y="168.6" width="22.6" height="48.20000000000002" filter="url(#spk)" opacity="0.08"/>
</g>
<clipPath id="m3"><path d="M229.00 168.60 Q229.00 168.60 230.65 168.74 Q232.30 168.89 233.33 169.95 Q234.36 171.01 235.39 173.18 Q236.42 175.35 237.55 178.24 Q238.68 181.13 239.09 184.99 Q239.51 188.84 239.51 193.18 Q239.51 197.52 239.20 201.38 Q238.89 205.23 238.06 208.61 Q237.24 211.98 235.69 214.03 Q234.15 216.08 232.61 216.44 Q231.06 216.80 230.03 216.80 Q229.00 216.80 227.97 216.80 Q226.94 216.80 225.39 216.44 Q223.85 216.08 222.31 214.03 Q220.76 211.98 219.94 208.61 Q219.11 205.23 218.80 201.38 Q218.49 197.52 218.49 193.18 Q218.49 188.84 218.91 184.99 Q219.32 181.13 220.45 178.24 Q221.58 175.35 222.61 173.18 Q223.64 171.01 224.67 169.95 Q225.70 168.89 227.35 168.74 Z"/></clipPath>
<path d="M229.00 168.60 Q229.00 168.60 230.65 168.74 Q232.30 168.89 233.33 169.95 Q234.36 171.01 235.39 173.18 Q236.42 175.35 237.55 178.24 Q238.68 181.13 239.09 184.99 Q239.51 188.84 239.51 193.18 Q239.51 197.52 239.20 201.38 Q238.89 205.23 238.06 208.61 Q237.24 211.98 235.69 214.03 Q234.15 216.08 232.61 216.44 Q231.06 216.80 230.03 216.80 Q229.00 216.80 227.97 216.80 Q226.94 216.80 225.39 216.44 Q223.85 216.08 222.31 214.03 Q220.76 211.98 219.94 208.61 Q219.11 205.23 218.80 201.38 Q218.49 197.52 218.49 193.18 Q218.49 188.84 218.91 184.99 Q219.32 181.13 220.45 178.24 Q221.58 175.35 222.61 173.18 Q223.64 171.01 224.67 169.95 Q225.70 168.89 227.35 168.74 Z" fill="#5a2ab4"/>
<g clip-path="url(#m3)"><g filter="url(#dsp)">
<ellipse cx="229" cy="192" rx="9.5" ry="16" fill="#2f56ee"/>
<ellipse cx="229" cy="182" rx="6.5" ry="5" fill="#2a80e8"/>
<rect x="220.00" y="190.00" width="18.00" height="16.00" rx="4.80" fill="#2ec05a"/>
<rect x="219.90" y="187.00" width="17.20" height="8.00" rx="2.40" fill="#eaea2a"/>
<rect x="220.40" y="184.40" width="15.20" height="6.40" rx="1.92" fill="#f0221a"/>
<ellipse cx="229" cy="208" rx="5.5" ry="3" fill="#1eb4e0"/>
</g>
<rect x="217.7" y="168.6" width="22.6" height="48.20000000000002" filter="url(#spk)" opacity="0.08"/>
</g>
<rect x="244.80" y="168.20" width="64.80" height="48.80" fill="#1f1f1f"/>
<rect x="244.8" y="168.2" width="64.80000000000001" height="48.80000000000001" fill="#3a3a3a" opacity="0.55" filter="url(#tex)"/>
<clipPath id="m4"><path d="M256.40 168.80 Q256.40 168.80 258.05 168.94 Q259.70 169.08 260.73 170.13 Q261.76 171.17 262.79 173.30 Q263.82 175.44 264.95 178.28 Q266.08 181.12 266.49 184.92 Q266.91 188.71 266.91 192.97 Q266.91 197.24 266.60 201.03 Q266.29 204.82 265.46 208.14 Q264.64 211.46 263.09 213.47 Q261.55 215.49 260.00 215.84 Q258.46 216.20 257.43 216.20 Q256.40 216.20 255.37 216.20 Q254.34 216.20 252.79 215.84 Q251.25 215.49 249.70 213.47 Q248.16 211.46 247.34 208.14 Q246.51 204.82 246.20 201.03 Q245.89 197.24 245.89 192.97 Q245.89 188.71 246.31 184.92 Q246.72 181.12 247.85 178.28 Q248.98 175.44 250.01 173.30 Q251.04 171.17 252.07 170.13 Q253.10 169.08 254.75 168.94 Z"/></clipPath>
<path d="M256.40 168.80 Q256.40 168.80 258.05 168.94 Q259.70 169.08 260.73 170.13 Q261.76 171.17 262.79 173.30 Q263.82 175.44 264.95 178.28 Q266.08 181.12 266.49 184.92 Q266.91 188.71 266.91 192.97 Q266.91 197.24 266.60 201.03 Q266.29 204.82 265.46 208.14 Q264.64 211.46 263.09 213.47 Q261.55 215.49 260.00 215.84 Q258.46 216.20 257.43 216.20 Q256.40 216.20 255.37 216.20 Q254.34 216.20 252.79 215.84 Q251.25 215.49 249.70 213.47 Q248.16 211.46 247.34 208.14 Q246.51 204.82 246.20 201.03 Q245.89 197.24 245.89 192.97 Q245.89 188.71 246.31 184.92 Q246.72 181.12 247.85 178.28 Q248.98 175.44 250.01 173.30 Q251.04 171.17 252.07 170.13 Q253.10 169.08 254.75 168.94 Z" fill="#5624b8"/>
<g clip-path="url(#m4)"><g filter="url(#dsp)">
<path d="M256.40 168.80 Q256.40 168.80 258.05 168.94 Q259.70 169.08 260.73 170.13 Q261.76 171.17 262.79 173.30 Q263.82 175.44 264.95 178.28 Q266.08 181.12 266.49 184.92 Q266.91 188.71 266.91 192.97 Q266.91 197.24 266.60 201.03 Q266.29 204.82 265.46 208.14 Q264.64 211.46 263.09 213.47 Q261.55 215.49 260.00 215.84 Q258.46 216.20 257.43 216.20 Q256.40 216.20 255.37 216.20 Q254.34 216.20 252.79 215.84 Q251.25 215.49 249.70 213.47 Q248.16 211.46 247.34 208.14 Q246.51 204.82 246.20 201.03 Q245.89 197.24 245.89 192.97 Q245.89 188.71 246.31 184.92 Q246.72 181.12 247.85 178.28 Q248.98 175.44 250.01 173.30 Q251.04 171.17 252.07 170.13 Q253.10 169.08 254.75 168.94 Z" fill="none" stroke="#9886cc" stroke-width="3"/>
<ellipse cx="250" cy="208" rx="4" ry="5" fill="#a898dc"/>
<ellipse cx="258" cy="192" rx="4.8" ry="13" fill="#3a4ee8"/>
<ellipse cx="256" cy="173" rx="2.8" ry="2.5" fill="#2fa0f0"/>
<ellipse cx="252" cy="192" rx="2.8" ry="2.4" fill="#1ec0a0"/>
<ellipse cx="261" cy="200" rx="2.2" ry="5" fill="#3a60e8"/>
<ellipse cx="248" cy="188" rx="1.5" ry="6" fill="#9080d0"/>
</g>
<rect x="245.09999999999997" y="168.8" width="22.6" height="47.39999999999998" filter="url(#spk)" opacity="0.12"/>
</g>
<clipPath id="m5"><path d="M277.60 169.20 Q277.60 169.20 279.25 169.34 Q280.90 169.48 281.93 170.53 Q282.96 171.57 283.99 173.70 Q285.02 175.84 286.15 178.68 Q287.28 181.52 287.69 185.32 Q288.11 189.11 288.11 193.37 Q288.11 197.64 287.80 201.43 Q287.49 205.22 286.66 208.54 Q285.84 211.86 284.30 213.87 Q282.75 215.89 281.21 216.24 Q279.66 216.60 278.63 216.60 Q277.60 216.60 276.57 216.60 Q275.54 216.60 274.00 216.24 Q272.45 215.89 270.91 213.87 Q269.36 211.86 268.54 208.54 Q267.71 205.22 267.40 201.43 Q267.09 197.64 267.09 193.37 Q267.09 189.11 267.51 185.32 Q267.92 181.52 269.05 178.68 Q270.18 175.84 271.21 173.70 Q272.24 171.57 273.27 170.53 Q274.30 169.48 275.95 169.34 Z"/></clipPath>
<path d="M277.60 169.20 Q277.60 169.20 279.25 169.34 Q280.90 169.48 281.93 170.53 Q282.96 171.57 283.99 173.70 Q285.02 175.84 286.15 178.68 Q287.28 181.52 287.69 185.32 Q288.11 189.11 288.11 193.37 Q288.11 197.64 287.80 201.43 Q287.49 205.22 286.66 208.54 Q285.84 211.86 284.30 213.87 Q282.75 215.89 281.21 216.24 Q279.66 216.60 278.63 216.60 Q277.60 216.60 276.57 216.60 Q275.54 216.60 274.00 216.24 Q272.45 215.89 270.91 213.87 Q269.36 211.86 268.54 208.54 Q267.71 205.22 267.40 201.43 Q267.09 197.64 267.09 193.37 Q267.09 189.11 267.51 185.32 Q267.92 181.52 269.05 178.68 Q270.18 175.84 271.21 173.70 Q272.24 171.57 273.27 170.53 Q274.30 169.48 275.95 169.34 Z" fill="#5426b8"/>
<g clip-path="url(#m5)"><g filter="url(#dsp)">
<path d="M277.60 169.20 Q277.60 169.20 279.25 169.34 Q280.90 169.48 281.93 170.53 Q282.96 171.57 283.99 173.70 Q285.02 175.84 286.15 178.68 Q287.28 181.52 287.69 185.32 Q288.11 189.11 288.11 193.37 Q288.11 197.64 287.80 201.43 Q287.49 205.22 286.66 208.54 Q285.84 211.86 284.30 213.87 Q282.75 215.89 281.21 216.24 Q279.66 216.60 278.63 216.60 Q277.60 216.60 276.57 216.60 Q275.54 216.60 274.00 216.24 Q272.45 215.89 270.91 213.87 Q269.36 211.86 268.54 208.54 Q267.71 205.22 267.40 201.43 Q267.09 197.64 267.09 193.37 Q267.09 189.11 267.51 185.32 Q267.92 181.52 269.05 178.68 Q270.18 175.84 271.21 173.70 Q272.24 171.57 273.27 170.53 Q274.30 169.48 275.95 169.34 Z" fill="none" stroke="#d0c6e6" stroke-width="3"/>
<ellipse cx="277.6" cy="190" rx="6.5" ry="6" fill="#2e86e8"/>
<ellipse cx="279" cy="192" rx="3" ry="2" fill="#1eb8e0"/>
<ellipse cx="271" cy="193" rx="2.0" ry="1.9" fill="#1ec0a0"/>
<ellipse cx="277" cy="208" rx="4" ry="4" fill="#6a40c8"/>
</g>
<rect x="266.3" y="169.2" width="22.6" height="47.400000000000006" filter="url(#spk)" opacity="0.12"/>
</g>
<clipPath id="m6"><path d="M298.50 169.20 Q298.50 169.20 300.15 169.34 Q301.80 169.48 302.83 170.53 Q303.86 171.57 304.89 173.70 Q305.92 175.84 307.05 178.68 Q308.18 181.52 308.59 185.32 Q309.01 189.11 309.01 193.37 Q309.01 197.64 308.70 201.43 Q308.39 205.22 307.56 208.54 Q306.74 211.86 305.19 213.87 Q303.65 215.89 302.11 216.24 Q300.56 216.60 299.53 216.60 Q298.50 216.60 297.47 216.60 Q296.44 216.60 294.89 216.24 Q293.35 215.89 291.81 213.87 Q290.26 211.86 289.44 208.54 Q288.61 205.22 288.30 201.43 Q287.99 197.64 287.99 193.37 Q287.99 189.11 288.41 185.32 Q288.82 181.52 289.95 178.68 Q291.08 175.84 292.11 173.70 Q293.14 171.57 294.17 170.53 Q295.20 169.48 296.85 169.34 Z"/></clipPath>
<path d="M298.50 169.20 Q298.50 169.20 300.15 169.34 Q301.80 169.48 302.83 170.53 Q303.86 171.57 304.89 173.70 Q305.92 175.84 307.05 178.68 Q308.18 181.52 308.59 185.32 Q309.01 189.11 309.01 193.37 Q309.01 197.64 308.70 201.43 Q308.39 205.22 307.56 208.54 Q306.74 211.86 305.19 213.87 Q303.65 215.89 302.11 216.24 Q300.56 216.60 299.53 216.60 Q298.50 216.60 297.47 216.60 Q296.44 216.60 294.89 216.24 Q293.35 215.89 291.81 213.87 Q290.26 211.86 289.44 208.54 Q288.61 205.22 288.30 201.43 Q287.99 197.64 287.99 193.37 Q287.99 189.11 288.41 185.32 Q288.82 181.52 289.95 178.68 Q291.08 175.84 292.11 173.70 Q293.14 171.57 294.17 170.53 Q295.20 169.48 296.85 169.34 Z" fill="#5426b4"/>
<g clip-path="url(#m6)"><g filter="url(#dsp)">
<path d="M298.50 169.20 Q298.50 169.20 300.15 169.34 Q301.80 169.48 302.83 170.53 Q303.86 171.57 304.89 173.70 Q305.92 175.84 307.05 178.68 Q308.18 181.52 308.59 185.32 Q309.01 189.11 309.01 193.37 Q309.01 197.64 308.70 201.43 Q308.39 205.22 307.56 208.54 Q306.74 211.86 305.19 213.87 Q303.65 215.89 302.11 216.24 Q300.56 216.60 299.53 216.60 Q298.50 216.60 297.47 216.60 Q296.44 216.60 294.89 216.24 Q293.35 215.89 291.81 213.87 Q290.26 211.86 289.44 208.54 Q288.61 205.22 288.30 201.43 Q287.99 197.64 287.99 193.37 Q287.99 189.11 288.41 185.32 Q288.82 181.52 289.95 178.68 Q291.08 175.84 292.11 173.70 Q293.14 171.57 294.17 170.53 Q295.20 169.48 296.85 169.34 Z" fill="none" stroke="#bcaee0" stroke-width="3"/>
<ellipse cx="299" cy="179" rx="7" ry="5" fill="#b8a6e0"/>
<ellipse cx="300" cy="176" rx="3.5" ry="2.2" fill="#ddd4f0"/>
<ellipse cx="292" cy="200" rx="1.5" ry="8" fill="#ab9ade"/>
</g>
<rect x="287.2" y="169.2" width="22.6" height="47.400000000000006" filter="url(#spk)" opacity="0.12"/>
</g>
<rect x="180.80" y="223.90" width="60.70" height="48.80" fill="#1f1f1f"/>
<rect x="180.8" y="223.9" width="60.69999999999999" height="48.79999999999998" fill="#3a3a3a" opacity="0.55" filter="url(#tex)"/>
<clipPath id="m7"><path d="M190.60 224.60 Q190.60 224.60 192.25 224.74 Q193.90 224.89 194.93 225.94 Q195.96 226.99 196.99 229.14 Q198.02 231.29 199.15 234.16 Q200.28 237.03 200.69 240.85 Q201.11 244.68 201.11 248.98 Q201.11 253.28 200.80 257.10 Q200.49 260.93 199.66 264.27 Q198.84 267.62 197.30 269.65 Q195.75 271.68 194.20 272.04 Q192.66 272.40 191.63 272.40 Q190.60 272.40 189.57 272.40 Q188.54 272.40 187.00 272.04 Q185.45 271.68 183.90 269.65 Q182.36 267.62 181.54 264.27 Q180.71 260.93 180.40 257.10 Q180.09 253.28 180.09 248.98 Q180.09 244.68 180.51 240.85 Q180.92 237.03 182.05 234.16 Q183.18 231.29 184.21 229.14 Q185.24 226.99 186.27 225.94 Q187.30 224.89 188.95 224.74 Z"/></clipPath>
<path d="M190.60 224.60 Q190.60 224.60 192.25 224.74 Q193.90 224.89 194.93 225.94 Q195.96 226.99 196.99 229.14 Q198.02 231.29 199.15 234.16 Q200.28 237.03 200.69 240.85 Q201.11 244.68 201.11 248.98 Q201.11 253.28 200.80 257.10 Q200.49 260.93 199.66 264.27 Q198.84 267.62 197.30 269.65 Q195.75 271.68 194.20 272.04 Q192.66 272.40 191.63 272.40 Q190.60 272.40 189.57 272.40 Q188.54 272.40 187.00 272.04 Q185.45 271.68 183.90 269.65 Q182.36 267.62 181.54 264.27 Q180.71 260.93 180.40 257.10 Q180.09 253.28 180.09 248.98 Q180.09 244.68 180.51 240.85 Q180.92 237.03 182.05 234.16 Q183.18 231.29 184.21 229.14 Q185.24 226.99 186.27 225.94 Q187.30 224.89 188.95 224.74 Z" fill="#e2e2e2"/>
<g clip-path="url(#m7)"><g filter="url(#dsp2)">
<rect x="180.70" y="237.20" width="19.60" height="19.60" rx="5.88" fill="#2ec05a"/>
<rect x="181.30" y="237.80" width="18.40" height="18.40" rx="5.52" fill="#eaea2a"/>
<rect x="181.80" y="238.40" width="17.40" height="17.20" rx="5.16" fill="#f0221a"/>
<ellipse cx="190.6" cy="244" rx="0.7" ry="3.5" fill="#2ec05a"/>
<ellipse cx="196" cy="255.5" rx="2.2" ry="1.4" fill="#2ec05a"/>
<ellipse cx="186" cy="263" rx="1.5" ry="3" fill="#f0f0f0"/>
</g>
<rect x="179.29999999999998" y="224.6" width="22.6" height="47.79999999999998" filter="url(#spk)" opacity="0.2"/>
</g>
<clipPath id="m8"><path d="M209.80 224.60 Q209.80 224.60 211.45 224.74 Q213.10 224.89 214.13 225.94 Q215.16 226.99 216.19 229.14 Q217.22 231.29 218.35 234.16 Q219.48 237.03 219.89 240.85 Q220.31 244.68 220.31 248.98 Q220.31 253.28 220.00 257.10 Q219.69 260.93 218.86 264.27 Q218.04 267.62 216.50 269.65 Q214.95 271.68 213.41 272.04 Q211.86 272.40 210.83 272.40 Q209.80 272.40 208.77 272.40 Q207.74 272.40 206.19 272.04 Q204.65 271.68 203.11 269.65 Q201.56 267.62 200.74 264.27 Q199.91 260.93 199.60 257.10 Q199.29 253.28 199.29 248.98 Q199.29 244.68 199.71 240.85 Q200.12 237.03 201.25 234.16 Q202.38 231.29 203.41 229.14 Q204.44 226.99 205.47 225.94 Q206.50 224.89 208.15 224.74 Z"/></clipPath>
<path d="M209.80 224.60 Q209.80 224.60 211.45 224.74 Q213.10 224.89 214.13 225.94 Q215.16 226.99 216.19 229.14 Q217.22 231.29 218.35 234.16 Q219.48 237.03 219.89 240.85 Q220.31 244.68 220.31 248.98 Q220.31 253.28 220.00 257.10 Q219.69 260.93 218.86 264.27 Q218.04 267.62 216.50 269.65 Q214.95 271.68 213.41 272.04 Q211.86 272.40 210.83 272.40 Q209.80 272.40 208.77 272.40 Q207.74 272.40 206.19 272.04 Q204.65 271.68 203.11 269.65 Q201.56 267.62 200.74 264.27 Q199.91 260.93 199.60 257.10 Q199.29 253.28 199.29 248.98 Q199.29 244.68 199.71 240.85 Q200.12 237.03 201.25 234.16 Q202.38 231.29 203.41 229.14 Q204.44 226.99 205.47 225.94 Q206.50 224.89 208.15 224.74 Z" fill="#5a2ab4"/>
<g clip-path="url(#m8)"><g filter="url(#dsp2)">
<ellipse cx="210" cy="250" rx="9" ry="20" fill="#2f56ee"/>
<ellipse cx="210" cy="262" rx="7.5" ry="8" fill="#1eb4e0"/>
<rect x="202.00" y="249.00" width="16.00" height="12.00" rx="3.60" fill="#2ec05a"/>
<rect x="202.00" y="247.50" width="16.00" height="9.00" rx="2.70" fill="#eaea2a"/>
<rect x="201.80" y="238.00" width="16.00" height="13.60" rx="4.08" fill="#f0221a"/>
<ellipse cx="209.5" cy="230.5" rx="4.2" ry="4.8" fill="#2ec05a"/>
<ellipse cx="209.5" cy="228.5" rx="2.5" ry="2.2" fill="#1eb4e0"/>
<ellipse cx="210" cy="236" rx="6" ry="1.2" fill="#2f56ee"/>
</g>
<rect x="198.5" y="224.6" width="22.6" height="47.79999999999998" filter="url(#spk)" opacity="0.06"/>
</g>
<clipPath id="m9"><path d="M230.20 224.60 Q230.20 224.60 231.85 224.74 Q233.50 224.89 234.53 225.94 Q235.56 226.99 236.59 229.14 Q237.62 231.29 238.75 234.16 Q239.88 237.03 240.29 240.85 Q240.71 244.68 240.71 248.98 Q240.71 253.28 240.40 257.10 Q240.09 260.93 239.26 264.27 Q238.44 267.62 236.89 269.65 Q235.35 271.68 233.81 272.04 Q232.26 272.40 231.23 272.40 Q230.20 272.40 229.17 272.40 Q228.14 272.40 226.59 272.04 Q225.05 271.68 223.50 269.65 Q221.96 267.62 221.14 264.27 Q220.31 260.93 220.00 257.10 Q219.69 253.28 219.69 248.98 Q219.69 244.68 220.11 240.85 Q220.52 237.03 221.65 234.16 Q222.78 231.29 223.81 229.14 Q224.84 226.99 225.87 225.94 Q226.90 224.89 228.55 224.74 Z"/></clipPath>
<path d="M230.20 224.60 Q230.20 224.60 231.85 224.74 Q233.50 224.89 234.53 225.94 Q235.56 226.99 236.59 229.14 Q237.62 231.29 238.75 234.16 Q239.88 237.03 240.29 240.85 Q240.71 244.68 240.71 248.98 Q240.71 253.28 240.40 257.10 Q240.09 260.93 239.26 264.27 Q238.44 267.62 236.89 269.65 Q235.35 271.68 233.81 272.04 Q232.26 272.40 231.23 272.40 Q230.20 272.40 229.17 272.40 Q228.14 272.40 226.59 272.04 Q225.05 271.68 223.50 269.65 Q221.96 267.62 221.14 264.27 Q220.31 260.93 220.00 257.10 Q219.69 253.28 219.69 248.98 Q219.69 244.68 220.11 240.85 Q220.52 237.03 221.65 234.16 Q222.78 231.29 223.81 229.14 Q224.84 226.99 225.87 225.94 Q226.90 224.89 228.55 224.74 Z" fill="#e2e2e2"/>
<g clip-path="url(#m9)"><g filter="url(#dsp2)">
<rect x="220.40" y="235.60" width="18.80" height="18.80" rx="5.64" fill="#2ec05a"/>
<rect x="221.10" y="236.70" width="17.40" height="16.60" rx="4.98" fill="#f0221a"/>
<ellipse cx="229.5" cy="228.5" rx="2.6" ry="2.0" fill="#1ea8a8"/>
<ellipse cx="226" cy="262" rx="2" ry="3" fill="#f0f0f0"/>
</g>
<rect x="218.89999999999998" y="224.6" width="22.6" height="47.79999999999998" filter="url(#spk)" opacity="0.2"/>
</g>
<rect x="244.70" y="223.90" width="65.10" height="48.60" fill="#1f1f1f"/>
<rect x="244.7" y="223.9" width="65.10000000000002" height="48.599999999999994" fill="#3a3a3a" opacity="0.55" filter="url(#tex)"/>
<clipPath id="m10"><path d="M255.60 224.60 Q255.60 224.60 257.25 224.74 Q258.90 224.89 259.93 225.93 Q260.96 226.98 261.99 229.12 Q263.02 231.26 264.15 234.12 Q265.28 236.98 265.69 240.78 Q266.11 244.59 266.11 248.88 Q266.11 253.16 265.80 256.97 Q265.49 260.78 264.66 264.11 Q263.84 267.44 262.29 269.46 Q260.75 271.49 259.20 271.84 Q257.66 272.20 256.63 272.20 Q255.60 272.20 254.57 272.20 Q253.54 272.20 252.00 271.84 Q250.45 271.49 248.90 269.46 Q247.36 267.44 246.54 264.11 Q245.71 260.78 245.40 256.97 Q245.09 253.16 245.09 248.88 Q245.09 244.59 245.51 240.78 Q245.92 236.98 247.05 234.12 Q248.18 231.26 249.21 229.12 Q250.24 226.98 251.27 225.93 Q252.30 224.89 253.95 224.74 Z"/></clipPath>
<path d="M255.60 224.60 Q255.60 224.60 257.25 224.74 Q258.90 224.89 259.93 225.93 Q260.96 226.98 261.99 229.12 Q263.02 231.26 264.15 234.12 Q265.28 236.98 265.69 240.78 Q266.11 244.59 266.11 248.88 Q266.11 253.16 265.80 256.97 Q265.49 260.78 264.66 264.11 Q263.84 267.44 262.29 269.46 Q260.75 271.49 259.20 271.84 Q257.66 272.20 256.63 272.20 Q255.60 272.20 254.57 272.20 Q253.54 272.20 252.00 271.84 Q250.45 271.49 248.90 269.46 Q247.36 267.44 246.54 264.11 Q245.71 260.78 245.40 256.97 Q245.09 253.16 245.09 248.88 Q245.09 244.59 245.51 240.78 Q245.92 236.98 247.05 234.12 Q248.18 231.26 249.21 229.12 Q250.24 226.98 251.27 225.93 Q252.30 224.89 253.95 224.74 Z" fill="#dcdcde"/>
<g clip-path="url(#m10)"><g filter="url(#dsp2)">
<ellipse cx="253.5" cy="252" rx="1.8" ry="1.3" fill="#6a3cbc"/>
<ellipse cx="256" cy="249" rx="1" ry="1.4" fill="#8a60c8"/>
<ellipse cx="252" cy="231" rx="2" ry="1.5" fill="#8a60c8"/>
</g>
<rect x="244.29999999999998" y="224.6" width="22.6" height="47.599999999999994" filter="url(#spk)" opacity="0.3"/>
</g>
<clipPath id="m11"><path d="M277.60 224.60 Q277.60 224.60 279.25 224.74 Q280.90 224.89 281.93 225.93 Q282.96 226.98 283.99 229.12 Q285.02 231.26 286.15 234.12 Q287.28 236.98 287.69 240.78 Q288.11 244.59 288.11 248.88 Q288.11 253.16 287.80 256.97 Q287.49 260.78 286.66 264.11 Q285.84 267.44 284.30 269.46 Q282.75 271.49 281.21 271.84 Q279.66 272.20 278.63 272.20 Q277.60 272.20 276.57 272.20 Q275.54 272.20 274.00 271.84 Q272.45 271.49 270.91 269.46 Q269.36 267.44 268.54 264.11 Q267.71 260.78 267.40 256.97 Q267.09 253.16 267.09 248.88 Q267.09 244.59 267.51 240.78 Q267.92 236.98 269.05 234.12 Q270.18 231.26 271.21 229.12 Q272.24 226.98 273.27 225.93 Q274.30 224.89 275.95 224.74 Z"/></clipPath>
<path d="M277.60 224.60 Q277.60 224.60 279.25 224.74 Q280.90 224.89 281.93 225.93 Q282.96 226.98 283.99 229.12 Q285.02 231.26 286.15 234.12 Q287.28 236.98 287.69 240.78 Q288.11 244.59 288.11 248.88 Q288.11 253.16 287.80 256.97 Q287.49 260.78 286.66 264.11 Q285.84 267.44 284.30 269.46 Q282.75 271.49 281.21 271.84 Q279.66 272.20 278.63 272.20 Q277.60 272.20 276.57 272.20 Q275.54 272.20 274.00 271.84 Q272.45 271.49 270.91 269.46 Q269.36 267.44 268.54 264.11 Q267.71 260.78 267.40 256.97 Q267.09 253.16 267.09 248.88 Q267.09 244.59 267.51 240.78 Q267.92 236.98 269.05 234.12 Q270.18 231.26 271.21 229.12 Q272.24 226.98 273.27 225.93 Q274.30 224.89 275.95 224.74 Z" fill="#5a2ab4"/>
<g clip-path="url(#m11)"><g filter="url(#dsp2)">
<ellipse cx="278" cy="250" rx="9" ry="18" fill="#2e4ef0"/>
<ellipse cx="278" cy="250" rx="7.2" ry="13" fill="#1eb4e0"/>
<ellipse cx="278" cy="250" rx="5.4" ry="10" fill="#2ec05a"/>
<ellipse cx="273.8" cy="247.5" rx="3.6" ry="3.6" fill="#eaea2a"/>
<ellipse cx="272.6" cy="247.5" rx="2.3" ry="2.1" fill="#f0221a"/>
<ellipse cx="280" cy="232" rx="3.4" ry="2.4" fill="#2ec05a"/>
<ellipse cx="280" cy="229.5" rx="2.2" ry="2.2" fill="#eaea2a"/>
<ellipse cx="280" cy="229" rx="1.1" ry="1.1" fill="#f0221a"/>
</g>
<rect x="266.3" y="224.6" width="22.6" height="47.599999999999994" filter="url(#spk)" opacity="0.08"/>
</g>
<clipPath id="m12"><path d="M299.00 224.60 Q299.00 224.60 300.65 224.74 Q302.30 224.89 303.33 225.93 Q304.36 226.98 305.39 229.12 Q306.42 231.26 307.55 234.12 Q308.68 236.98 309.09 240.78 Q309.51 244.59 309.51 248.88 Q309.51 253.16 309.20 256.97 Q308.89 260.78 308.06 264.11 Q307.24 267.44 305.69 269.46 Q304.15 271.49 302.61 271.84 Q301.06 272.20 300.03 272.20 Q299.00 272.20 297.97 272.20 Q296.94 272.20 295.39 271.84 Q293.85 271.49 292.31 269.46 Q290.76 267.44 289.94 264.11 Q289.11 260.78 288.80 256.97 Q288.49 253.16 288.49 248.88 Q288.49 244.59 288.91 240.78 Q289.32 236.98 290.45 234.12 Q291.58 231.26 292.61 229.12 Q293.64 226.98 294.67 225.93 Q295.70 224.89 297.35 224.74 Z"/></clipPath>
<path d="M299.00 224.60 Q299.00 224.60 300.65 224.74 Q302.30 224.89 303.33 225.93 Q304.36 226.98 305.39 229.12 Q306.42 231.26 307.55 234.12 Q308.68 236.98 309.09 240.78 Q309.51 244.59 309.51 248.88 Q309.51 253.16 309.20 256.97 Q308.89 260.78 308.06 264.11 Q307.24 267.44 305.69 269.46 Q304.15 271.49 302.61 271.84 Q301.06 272.20 300.03 272.20 Q299.00 272.20 297.97 272.20 Q296.94 272.20 295.39 271.84 Q293.85 271.49 292.31 269.46 Q290.76 267.44 289.94 264.11 Q289.11 260.78 288.80 256.97 Q288.49 253.16 288.49 248.88 Q288.49 244.59 288.91 240.78 Q289.32 236.98 290.45 234.12 Q291.58 231.26 292.61 229.12 Q293.64 226.98 294.67 225.93 Q295.70 224.89 297.35 224.74 Z" fill="#5a2ab4"/>
<g clip-path="url(#m12)"><g filter="url(#dsp2)">
<ellipse cx="299" cy="249" rx="8" ry="17" fill="#2e4ef0"/>
<ellipse cx="299" cy="249" rx="6.5" ry="12" fill="#1eb4e0"/>
<ellipse cx="298.5" cy="250" rx="3.6" ry="7.5" fill="#2ec05a"/>
<ellipse cx="298" cy="246" rx="6" ry="2.6" fill="#2ec05a"/>
<ellipse cx="299" cy="230" rx="3" ry="3" fill="#2ec05a"/>
<ellipse cx="299" cy="229" rx="1.5" ry="1.5" fill="#eaea2a"/>
</g>
<rect x="287.7" y="224.6" width="22.6" height="47.599999999999994" filter="url(#spk)" opacity="0.08"/>
</g>
<rect x="311.60" y="168.00" width="3.60" height="107.00" fill="url(#cbar)"/>
<line x1="315.20" y1="176.80" x2="317.60" y2="176.80" stroke="#333" stroke-width="0.7"/>
<line x1="315.20" y1="193.60" x2="317.60" y2="193.60" stroke="#333" stroke-width="0.7"/>
<line x1="315.20" y1="210.40" x2="317.60" y2="210.40" stroke="#333" stroke-width="0.7"/>
<line x1="315.20" y1="229.30" x2="317.60" y2="229.30" stroke="#333" stroke-width="0.7"/>
<line x1="315.20" y1="246.00" x2="317.60" y2="246.00" stroke="#333" stroke-width="0.7"/>
<line x1="315.20" y1="263.30" x2="317.60" y2="263.30" stroke="#333" stroke-width="0.7"/>
<text x="320.60" y="179.60" font-size="7.8" textLength="9.80" lengthAdjust="spacingAndGlyphs">1.2</text>
<text x="320.60" y="196.40" font-size="7.8" textLength="9.80" lengthAdjust="spacingAndGlyphs">1.0</text>
<text x="320.60" y="213.20" font-size="7.8" textLength="9.80" lengthAdjust="spacingAndGlyphs">0.8</text>
<text x="320.60" y="232.10" font-size="7.8" textLength="9.80" lengthAdjust="spacingAndGlyphs">0.6</text>
<text x="320.60" y="248.80" font-size="7.8" textLength="9.80" lengthAdjust="spacingAndGlyphs">0.4</text>
<text x="320.60" y="266.10" font-size="7.8" textLength="9.80" lengthAdjust="spacingAndGlyphs">0.2</text>
<text x="334.80" y="222.80" font-size="6.4">×10<tspan dy="-2.6" font-size="4.2">5</tspan></text>
<text x="301.00" y="284.50" font-size="7.6" textLength="28.80" lengthAdjust="spacingAndGlyphs">Radiance</text>
<text x="301.00" y="291.00" font-size="7.6" textLength="42.00" lengthAdjust="spacingAndGlyphs">(p/sec/cm<tspan dy="-2.6" font-size="4.6">2</tspan><tspan dy="2.6">/sr)</tspan></text>
<text x="279.60" y="306.30" font-size="12" fill="#111" font-weight="bold">I</text>
<defs>
<filter id="paper" x="0" y="0" width="100%" height="100%"><feTurbulence type="fractalNoise" baseFrequency="0.45" numOctaves="3" seed="9" result="n"/><feColorMatrix in="n" type="matrix" values="0 0 0 0 0.55  0 0 0 0 0.52  0 0 0 0 0.52  0 0 0 -1.6 1.0"/></filter>
<filter id="sb" x="-10%" y="-10%" width="120%" height="120%"><feGaussianBlur stdDeviation="0.6"/></filter>
<radialGradient id="sp1" cx="0.6" cy="0.4" r="0.65"><stop offset="0" stop-color="#9e1628"/><stop offset="0.65" stop-color="#8c1222"/><stop offset="1" stop-color="#6c0a18"/></radialGradient>
<radialGradient id="sp3" cx="0.5" cy="0.45" r="0.6"><stop offset="0" stop-color="#b2162e"/><stop offset="0.75" stop-color="#a41228"/><stop offset="1" stop-color="#840a1e"/></radialGradient>
</defs>
<defs>
<filter id="pw9" x="0" y="0" width="100%" height="100%"><feTurbulence type="fractalNoise" baseFrequency="0.3" numOctaves="3" seed="9" result="n"/><feColorMatrix in="n" type="matrix" values="0 0 0 0 1  0 0 0 0 1  0 0 0 0 1  0 0 0 -2.4 1.45"/><feGaussianBlur stdDeviation="0.5"/></filter>
<filter id="pw4" x="0" y="0" width="100%" height="100%"><feTurbulence type="fractalNoise" baseFrequency="0.3" numOctaves="3" seed="4" result="n"/><feColorMatrix in="n" type="matrix" values="0 0 0 0 1  0 0 0 0 1  0 0 0 0 1  0 0 0 -2.4 1.45"/><feGaussianBlur stdDeviation="0.5"/></filter>
<filter id="pw5" x="0" y="0" width="100%" height="100%"><feTurbulence type="fractalNoise" baseFrequency="0.3" numOctaves="3" seed="5" result="n"/><feColorMatrix in="n" type="matrix" values="0 0 0 0 1  0 0 0 0 1  0 0 0 0 1  0 0 0 -2.4 1.45"/><feGaussianBlur stdDeviation="0.5"/></filter>
<filter id="glare" x="-20%" y="-50%" width="140%" height="200%"><feTurbulence type="fractalNoise" baseFrequency="0.8" numOctaves="2" seed="2" result="n"/><feColorMatrix in="n" type="matrix" values="0 0 0 0 1  0 0 0 0 0.95  0 0 0 0 0.95  0 0 0 -3 2.2" result="w"/><feComposite in="w" in2="SourceGraphic" operator="in"/><feGaussianBlur stdDeviation="0.3"/></filter>
<radialGradient id="sp2" cx="0.45" cy="0.45" r="0.65"><stop offset="0" stop-color="#7a1220"/><stop offset="0.7" stop-color="#680c18"/><stop offset="1" stop-color="#4e0810"/></radialGradient>
</defs>
<rect x="299.50" y="312.50" width="94.80" height="94.00" fill="#d4cdc9"/>
<rect x="299.5" y="312.5" width="94.8" height="94.0" filter="url(#pw9)" opacity="0.32"/>
<rect x="299.50" y="312.50" width="94.80" height="7.20" fill="#cdcdc9"/>
<rect x="299.5" y="319.4" width="94.80000000000001" height="16.600000000000023" fill="#dcdcda"/>
<rect x="299.5" y="319.4" width="24.30000000000001" height="16.600000000000023" fill="#c8c8c6"/>
<line x1="299.50" y1="319.90" x2="394.30" y2="319.90" stroke="#3a3a3a" stroke-width="1.0"/>
<line x1="300.35" y1="320.40" x2="300.35" y2="335.80" stroke="#3c3c3c" stroke-width="0.8"/>
<line x1="303.00" y1="329.00" x2="303.00" y2="335.80" stroke="#3c3c3c" stroke-width="0.8"/>
<line x1="305.64" y1="329.00" x2="305.64" y2="335.80" stroke="#3c3c3c" stroke-width="0.8"/>
<line x1="308.28" y1="329.00" x2="308.28" y2="335.80" stroke="#3c3c3c" stroke-width="0.8"/>
<line x1="310.93" y1="329.00" x2="310.93" y2="335.80" stroke="#3c3c3c" stroke-width="0.8"/>
<line x1="313.57" y1="326.50" x2="313.57" y2="335.80" stroke="#3c3c3c" stroke-width="0.8"/>
<line x1="316.22" y1="329.00" x2="316.22" y2="335.80" stroke="#3c3c3c" stroke-width="0.8"/>
<line x1="318.86" y1="329.00" x2="318.86" y2="335.80" stroke="#3c3c3c" stroke-width="0.8"/>
<line x1="321.51" y1="329.00" x2="321.51" y2="335.80" stroke="#3c3c3c" stroke-width="0.8"/>
<line x1="324.15" y1="329.00" x2="324.15" y2="335.80" stroke="#3c3c3c" stroke-width="0.8"/>
<line x1="326.80" y1="320.40" x2="326.80" y2="335.80" stroke="#3c3c3c" stroke-width="0.8"/>
<line x1="329.44" y1="329.00" x2="329.44" y2="335.80" stroke="#3c3c3c" stroke-width="0.8"/>
<line x1="332.09" y1="329.00" x2="332.09" y2="335.80" stroke="#3c3c3c" stroke-width="0.8"/>
<line x1="334.73" y1="329.00" x2="334.73" y2="335.80" stroke="#3c3c3c" stroke-width="0.8"/>
<line x1="337.38" y1="329.00" x2="337.38" y2="335.80" stroke="#3c3c3c" stroke-width="0.8"/>
<line x1="340.02" y1="326.50" x2="340.02" y2="335.80" stroke="#3c3c3c" stroke-width="0.8"/>
<line x1="342.67" y1="329.00" x2="342.67" y2="335.80" stroke="#3c3c3c" stroke-width="0.8"/>
<line x1="345.31" y1="329.00" x2="345.31" y2="335.80" stroke="#3c3c3c" stroke-width="0.8"/>
<line x1="347.96" y1="329.00" x2="347.96" y2="335.80" stroke="#3c3c3c" stroke-width="0.8"/>
<line x1="350.60" y1="329.00" x2="350.60" y2="335.80" stroke="#3c3c3c" stroke-width="0.8"/>
<line x1="353.25" y1="320.40" x2="353.25" y2="335.80" stroke="#3c3c3c" stroke-width="0.8"/>
<line x1="355.89" y1="329.00" x2="355.89" y2="335.80" stroke="#3c3c3c" stroke-width="0.8"/>
<line x1="358.54" y1="329.00" x2="358.54" y2="335.80" stroke="#3c3c3c" stroke-width="0.8"/>
<line x1="361.18" y1="329.00" x2="361.18" y2="335.80" stroke="#3c3c3c" stroke-width="0.8"/>
<line x1="363.83" y1="329.00" x2="363.83" y2="335.80" stroke="#3c3c3c" stroke-width="0.8"/>
<line x1="366.47" y1="326.50" x2="366.47" y2="335.80" stroke="#3c3c3c" stroke-width="0.8"/>
<line x1="369.12" y1="329.00" x2="369.12" y2="335.80" stroke="#3c3c3c" stroke-width="0.8"/>
<line x1="371.76" y1="329.00" x2="371.76" y2="335.80" stroke="#3c3c3c" stroke-width="0.8"/>
<line x1="374.41" y1="329.00" x2="374.41" y2="335.80" stroke="#3c3c3c" stroke-width="0.8"/>
<line x1="377.05" y1="329.00" x2="377.05" y2="335.80" stroke="#3c3c3c" stroke-width="0.8"/>
<line x1="379.70" y1="320.40" x2="379.70" y2="335.80" stroke="#3c3c3c" stroke-width="0.8"/>
<line x1="382.34" y1="329.00" x2="382.34" y2="335.80" stroke="#3c3c3c" stroke-width="0.8"/>
<line x1="384.99" y1="329.00" x2="384.99" y2="335.80" stroke="#3c3c3c" stroke-width="0.8"/>
<line x1="387.63" y1="329.00" x2="387.63" y2="335.80" stroke="#3c3c3c" stroke-width="0.8"/>
<line x1="390.28" y1="329.00" x2="390.28" y2="335.80" stroke="#3c3c3c" stroke-width="0.8"/>
<line x1="392.92" y1="326.50" x2="392.92" y2="335.80" stroke="#3c3c3c" stroke-width="0.8"/>
<text x="301.50" y="326.60" font-size="5.6" fill="#1e1e1e" font-weight="bold" textLength="17.70" lengthAdjust="spacingAndGlyphs">METRIC</text>
<text x="325.80" y="326.90" font-size="7.0" text-anchor="end" fill="#1e1e1e">1</text>
<text x="352.25" y="326.90" font-size="7.0" text-anchor="end" fill="#1e1e1e">2</text>
<text x="378.70" y="326.90" font-size="7.0" text-anchor="end" fill="#1e1e1e">3</text>
<path d="M306.2 391.5 Q305.2 386 306.6 382.5 Q308.8 376 313 372 Q317 366 322 362 Q328 357 335 354.5 Q342 351.5 350 350.2 Q359 349 367.2 349.4 Q374 350.5 378.8 353.3 Q384 357 385.8 362 Q388 366 387.6 371.5 Q387 376 385.5 379.2 Q382 382 378.8 382.7 Q372 383 365.3 383.5 Q356 383.5 346 384.6 Q336 387 326.8 390.8 Q318 394 312.5 396.4 Q308.2 397.2 306.2 391.5 Z" fill="url(#sp1)" filter="url(#sb)"/>
<path d="M360 381.6 Q368 379 375 376.5 Q380 374.6 381.5 376 Q380 379 372 380.8 Q365 382 360 381.6 Z" fill="#f0dada" filter="url(#sb)" opacity="0.8"/>
<path d="M330 366 Q345 357 365 356 Q352 362 334 370 Z" fill="#b02838" filter="url(#sb)" opacity="0.45"/>
<text x="293.60" y="359.20" font-size="6.9" text-anchor="middle" fill="#505050" textLength="61.00" lengthAdjust="spacingAndGlyphs" transform="rotate(-90 293.60 359.20)">IgG control antibody</text>
<rect x="300.50" y="431.00" width="93.80" height="82.80" fill="#cdcdc7"/>
<rect x="300.5" y="431.0" width="93.8" height="82.8" filter="url(#pw4)" opacity="0.34"/>
<rect x="300.50" y="431.00" width="93.80" height="5.20" fill="#d4d4d2"/>
<rect x="300.50" y="436.00" width="6.30" height="17.80" fill="#cacac8"/>
<rect x="306.7" y="435.6" width="87.60000000000002" height="18.0" fill="#e8e8e6"/>
<rect x="306.7" y="435.6" width="25.80000000000001" height="18.0" fill="#dededc"/>
<line x1="306.70" y1="436.10" x2="394.30" y2="436.10" stroke="#3a3a3a" stroke-width="1.0"/>
<line x1="309.76" y1="446.60" x2="309.76" y2="453.40" stroke="#3c3c3c" stroke-width="0.8"/>
<line x1="312.62" y1="446.60" x2="312.62" y2="453.40" stroke="#3c3c3c" stroke-width="0.8"/>
<line x1="315.48" y1="446.60" x2="315.48" y2="453.40" stroke="#3c3c3c" stroke-width="0.8"/>
<line x1="318.34" y1="446.60" x2="318.34" y2="453.40" stroke="#3c3c3c" stroke-width="0.8"/>
<line x1="321.20" y1="444.10" x2="321.20" y2="453.40" stroke="#3c3c3c" stroke-width="0.8"/>
<line x1="324.06" y1="446.60" x2="324.06" y2="453.40" stroke="#3c3c3c" stroke-width="0.8"/>
<line x1="326.92" y1="446.60" x2="326.92" y2="453.40" stroke="#3c3c3c" stroke-width="0.8"/>
<line x1="329.78" y1="446.60" x2="329.78" y2="453.40" stroke="#3c3c3c" stroke-width="0.8"/>
<line x1="332.64" y1="446.60" x2="332.64" y2="453.40" stroke="#3c3c3c" stroke-width="0.8"/>
<line x1="335.50" y1="436.60" x2="335.50" y2="453.40" stroke="#3c3c3c" stroke-width="0.8"/>
<line x1="338.36" y1="446.60" x2="338.36" y2="453.40" stroke="#3c3c3c" stroke-width="0.8"/>
<line x1="341.22" y1="446.60" x2="341.22" y2="453.40" stroke="#3c3c3c" stroke-width="0.8"/>
<line x1="344.08" y1="446.60" x2="344.08" y2="453.40" stroke="#3c3c3c" stroke-width="0.8"/>
<line x1="346.94" y1="446.60" x2="346.94" y2="453.40" stroke="#3c3c3c" stroke-width="0.8"/>
<line x1="349.80" y1="444.10" x2="349.80" y2="453.40" stroke="#3c3c3c" stroke-width="0.8"/>
<line x1="352.66" y1="446.60" x2="352.66" y2="453.40" stroke="#3c3c3c" stroke-width="0.8"/>
<line x1="355.52" y1="446.60" x2="355.52" y2="453.40" stroke="#3c3c3c" stroke-width="0.8"/>
<line x1="358.38" y1="446.60" x2="358.38" y2="453.40" stroke="#3c3c3c" stroke-width="0.8"/>
<line x1="361.24" y1="446.60" x2="361.24" y2="453.40" stroke="#3c3c3c" stroke-width="0.8"/>
<line x1="364.10" y1="436.60" x2="364.10" y2="453.40" stroke="#3c3c3c" stroke-width="0.8"/>
<line x1="366.96" y1="446.60" x2="366.96" y2="453.40" stroke="#3c3c3c" stroke-width="0.8"/>
<line x1="369.82" y1="446.60" x2="369.82" y2="453.40" stroke="#3c3c3c" stroke-width="0.8"/>
<line x1="372.68" y1="446.60" x2="372.68" y2="453.40" stroke="#3c3c3c" stroke-width="0.8"/>
<line x1="375.54" y1="446.60" x2="375.54" y2="453.40" stroke="#3c3c3c" stroke-width="0.8"/>
<line x1="378.40" y1="444.10" x2="378.40" y2="453.40" stroke="#3c3c3c" stroke-width="0.8"/>
<line x1="381.26" y1="446.60" x2="381.26" y2="453.40" stroke="#3c3c3c" stroke-width="0.8"/>
<line x1="384.12" y1="446.60" x2="384.12" y2="453.40" stroke="#3c3c3c" stroke-width="0.8"/>
<line x1="386.98" y1="446.60" x2="386.98" y2="453.40" stroke="#3c3c3c" stroke-width="0.8"/>
<line x1="389.84" y1="446.60" x2="389.84" y2="453.40" stroke="#3c3c3c" stroke-width="0.8"/>
<line x1="392.70" y1="436.60" x2="392.70" y2="453.40" stroke="#3c3c3c" stroke-width="0.8"/>
<text x="308.60" y="442.80" font-size="5.6" fill="#1e1e1e" font-weight="bold" textLength="19.20" lengthAdjust="spacingAndGlyphs">METRIC</text>
<text x="334.50" y="443.10" font-size="7.0" text-anchor="end" fill="#1e1e1e">1</text>
<text x="363.10" y="443.10" font-size="7.0" text-anchor="end" fill="#1e1e1e">2</text>
<text x="391.70" y="443.10" font-size="7.0" text-anchor="end" fill="#1e1e1e">3</text>
<path d="M311.7 491.2 Q310.8 487.5 311.3 486 Q312.5 483.5 314.6 482.5 Q317 480.5 319.4 479.6 Q323 478.3 326.2 478.2 Q330 478.2 332.9 478.7 Q336 479.7 338.7 481.5 Q341 483.5 343 486.3 Q344.8 488.5 345.4 490.7 Q345.6 493 344.4 494 Q343 495.5 341 495.2 Q339.3 494 337.7 492.6 Q335.5 490.8 332.9 489.7 Q330 488.7 327.1 488.75 Q324 488.9 321.3 489.7 Q318.5 490.8 316.5 492.1 Q314.5 493.6 313.7 493 Q312.2 492.6 311.7 491.2 Z" fill="url(#sp2)" filter="url(#sb)"/>
<path d="M328 483 Q334 481.5 339 485 Q341 488 338 489 Q333 487 328 486 Z" fill="#9a8088" filter="url(#sb)" opacity="0.75"/>
<text x="294.60" y="472.10" font-size="6.9" text-anchor="middle" fill="#505050" textLength="34.50" lengthAdjust="spacingAndGlyphs" transform="rotate(-90 294.60 472.10)">tafasitamab</text>
<rect x="302.00" y="543.50" width="93.50" height="76.50" fill="#d0cec8"/>
<rect x="302.0" y="543.5" width="93.5" height="76.5" filter="url(#pw5)" opacity="0.34"/>
<rect x="303.5" y="543.5" width="92.0" height="19.5" fill="#e6e6e4"/>
<rect x="303.5" y="543.5" width="26.19999999999999" height="19.5" fill="#dadad8"/>
<line x1="303.50" y1="544.00" x2="395.50" y2="544.00" stroke="#3a3a3a" stroke-width="1.0"/>
<line x1="306.73" y1="556.00" x2="306.73" y2="562.80" stroke="#3c3c3c" stroke-width="0.8"/>
<line x1="309.62" y1="556.00" x2="309.62" y2="562.80" stroke="#3c3c3c" stroke-width="0.8"/>
<line x1="312.50" y1="556.00" x2="312.50" y2="562.80" stroke="#3c3c3c" stroke-width="0.8"/>
<line x1="315.39" y1="556.00" x2="315.39" y2="562.80" stroke="#3c3c3c" stroke-width="0.8"/>
<line x1="318.27" y1="553.50" x2="318.27" y2="562.80" stroke="#3c3c3c" stroke-width="0.8"/>
<line x1="321.16" y1="556.00" x2="321.16" y2="562.80" stroke="#3c3c3c" stroke-width="0.8"/>
<line x1="324.04" y1="556.00" x2="324.04" y2="562.80" stroke="#3c3c3c" stroke-width="0.8"/>
<line x1="326.93" y1="556.00" x2="326.93" y2="562.80" stroke="#3c3c3c" stroke-width="0.8"/>
<line x1="329.81" y1="556.00" x2="329.81" y2="562.80" stroke="#3c3c3c" stroke-width="0.8"/>
<line x1="332.70" y1="544.50" x2="332.70" y2="562.80" stroke="#3c3c3c" stroke-width="0.8"/>
<line x1="335.58" y1="556.00" x2="335.58" y2="562.80" stroke="#3c3c3c" stroke-width="0.8"/>
<line x1="338.47" y1="556.00" x2="338.47" y2="562.80" stroke="#3c3c3c" stroke-width="0.8"/>
<line x1="341.35" y1="556.00" x2="341.35" y2="562.80" stroke="#3c3c3c" stroke-width="0.8"/>
<line x1="344.24" y1="556.00" x2="344.24" y2="562.80" stroke="#3c3c3c" stroke-width="0.8"/>
<line x1="347.12" y1="553.50" x2="347.12" y2="562.80" stroke="#3c3c3c" stroke-width="0.8"/>
<line x1="350.01" y1="556.00" x2="350.01" y2="562.80" stroke="#3c3c3c" stroke-width="0.8"/>
<line x1="352.89" y1="556.00" x2="352.89" y2="562.80" stroke="#3c3c3c" stroke-width="0.8"/>
<line x1="355.78" y1="556.00" x2="355.78" y2="562.80" stroke="#3c3c3c" stroke-width="0.8"/>
<line x1="358.66" y1="556.00" x2="358.66" y2="562.80" stroke="#3c3c3c" stroke-width="0.8"/>
<line x1="361.55" y1="544.50" x2="361.55" y2="562.80" stroke="#3c3c3c" stroke-width="0.8"/>
<line x1="364.43" y1="556.00" x2="364.43" y2="562.80" stroke="#3c3c3c" stroke-width="0.8"/>
<line x1="367.32" y1="556.00" x2="367.32" y2="562.80" stroke="#3c3c3c" stroke-width="0.8"/>
<line x1="370.20" y1="556.00" x2="370.20" y2="562.80" stroke="#3c3c3c" stroke-width="0.8"/>
<line x1="373.09" y1="556.00" x2="373.09" y2="562.80" stroke="#3c3c3c" stroke-width="0.8"/>
<line x1="375.97" y1="553.50" x2="375.97" y2="562.80" stroke="#3c3c3c" stroke-width="0.8"/>
<line x1="378.86" y1="556.00" x2="378.86" y2="562.80" stroke="#3c3c3c" stroke-width="0.8"/>
<line x1="381.74" y1="556.00" x2="381.74" y2="562.80" stroke="#3c3c3c" stroke-width="0.8"/>
<line x1="384.63" y1="556.00" x2="384.63" y2="562.80" stroke="#3c3c3c" stroke-width="0.8"/>
<line x1="387.51" y1="556.00" x2="387.51" y2="562.80" stroke="#3c3c3c" stroke-width="0.8"/>
<line x1="390.40" y1="544.50" x2="390.40" y2="562.80" stroke="#3c3c3c" stroke-width="0.8"/>
<line x1="393.28" y1="556.00" x2="393.28" y2="562.80" stroke="#3c3c3c" stroke-width="0.8"/>
<text x="305.80" y="551.20" font-size="5.6" fill="#1e1e1e" font-weight="bold" textLength="19.20" lengthAdjust="spacingAndGlyphs">METRIC</text>
<text x="331.70" y="551.50" font-size="7.0" text-anchor="end" fill="#1e1e1e">1</text>
<text x="360.55" y="551.50" font-size="7.0" text-anchor="end" fill="#1e1e1e">2</text>
<text x="389.40" y="551.50" font-size="7.0" text-anchor="end" fill="#1e1e1e">3</text>
<path d="M308.7 610.2 Q308.8 606 309.6 603.5 Q311.5 598 315.4 593.8 Q319.5 589.5 325 586.2 Q331 582.5 338.5 580.4 Q344 578.6 350 578 Q356 577.8 361.5 578.8 Q367 580.3 371.2 583.3 Q375 586.3 376.9 590 Q379 594 379.8 598.7 Q380 603 378.8 606.3 Q377.5 609.5 375 611.2 Q372.5 612.6 370.2 612.1 Q367 610.5 363.5 608.3 Q359 605.8 353.8 604.4 Q348 602.8 342.3 602.5 Q336.5 602.5 330.8 603.5 Q326 604.6 321.2 606.3 Q317 608.5 313.5 611.2 Q311.5 612.8 309.6 612.7 Q308.6 611.8 308.7 610.2 Z" fill="url(#sp3)" filter="url(#sb)"/>
<path d="M329 599.5 Q333 594.5 340 593.5 Q350 592.5 358 594 Q364 595.5 366 599 Q365 602.5 358 602.5 Q350 601.5 342 601.3 Q334 601.5 329 603 Z" fill="#f0dcdc" filter="url(#glare)" opacity="0.5"/>
<text x="295.60" y="582.00" font-size="6.9" text-anchor="middle" fill="#505050" textLength="38.30" lengthAdjust="spacingAndGlyphs" transform="rotate(-90 295.60 582.00)">no treatment</text>
<rect x="437.3" y="315.1" width="66.69999999999999" height="65.59999999999997" fill="none" stroke="#b5b5b5" stroke-width="0.8"/>
<line x1="437.30" y1="315.10" x2="437.30" y2="380.70" stroke="#555" stroke-width="0.8"/>
<line x1="437.30" y1="380.70" x2="504.00" y2="380.70" stroke="#555" stroke-width="0.8"/>
<path d="M440.60 343.30 L447.30 332.20 L468.50 335.60 L472.80 346.60 L469.00 352.90 L461.70 359.10 L452.00 356.00 L444.00 350.00 Z" fill="none" stroke="#555" stroke-width="0.7"/>
<g filter="url(#bl3)">
<rect x="440.50" y="339.00" width="22.20" height="22.00" rx="7.5" fill="#2a1a8e"/>
<rect x="441.90" y="340.80" width="19.60" height="19.20" rx="6.5" fill="#2246d8"/>
<rect x="443.40" y="342.70" width="17.00" height="16.20" rx="5.5" fill="#1ea4d8"/>
<rect x="444.80" y="344.70" width="14.40" height="12.60" rx="4.2" fill="#32b04c"/>
<ellipse cx="451.8" cy="350.5" rx="5.8" ry="3.5" fill="#e8e030"/>
<ellipse cx="455.2" cy="350.2" rx="2.7" ry="2.2" fill="#e83020"/>
<ellipse cx="448.8" cy="350.5" rx="1.1" ry="1.0" fill="#e83020"/>
</g>
<line x1="435.50" y1="317.50" x2="437.30" y2="317.50" stroke="#333" stroke-width="0.6"/>
<text x="433.10" y="319.90" font-size="6.6" text-anchor="end">10<tspan dy="-2.6" font-size="4.4">7</tspan></text>
<line x1="435.50" y1="326.20" x2="437.30" y2="326.20" stroke="#333" stroke-width="0.6"/>
<text x="433.10" y="328.60" font-size="6.6" text-anchor="end">10<tspan dy="-2.6" font-size="4.4">6</tspan></text>
<line x1="435.50" y1="335.30" x2="437.30" y2="335.30" stroke="#333" stroke-width="0.6"/>
<text x="433.10" y="337.70" font-size="6.6" text-anchor="end">10<tspan dy="-2.6" font-size="4.4">5</tspan></text>
<line x1="435.50" y1="344.40" x2="437.30" y2="344.40" stroke="#333" stroke-width="0.6"/>
<text x="433.10" y="346.80" font-size="6.6" text-anchor="end">10<tspan dy="-2.6" font-size="4.4">4</tspan></text>
<line x1="435.50" y1="353.50" x2="437.30" y2="353.50" stroke="#333" stroke-width="0.6"/>
<text x="433.10" y="355.90" font-size="6.6" text-anchor="end">10<tspan dy="-2.6" font-size="4.4">3</tspan></text>
<line x1="435.50" y1="366.60" x2="437.30" y2="366.60" stroke="#333" stroke-width="0.6"/>
<text x="432.10" y="369.00" font-size="6.6" text-anchor="end">0</text>
<line x1="435.50" y1="380.10" x2="437.30" y2="380.10" stroke="#333" stroke-width="0.6"/>
<text x="433.10" y="382.50" font-size="6.6" text-anchor="end">−10<tspan dy="-2.6" font-size="4.4">3</tspan></text>
<line x1="441.30" y1="380.70" x2="441.30" y2="382.50" stroke="#333" stroke-width="0.6"/>
<text x="440.30" y="392.70" font-size="6.6" text-anchor="middle">−10<tspan dy="-2.6" font-size="4.4">3</tspan></text>
<line x1="451.80" y1="380.70" x2="451.80" y2="382.50" stroke="#333" stroke-width="0.6"/>
<text x="451.80" y="392.70" font-size="6.6" text-anchor="middle">0</text>
<line x1="464.60" y1="380.70" x2="464.60" y2="382.50" stroke="#333" stroke-width="0.6"/>
<text x="463.60" y="392.70" font-size="6.6" text-anchor="middle">10<tspan dy="-2.6" font-size="4.4">3</tspan></text>
<line x1="482.70" y1="380.70" x2="482.70" y2="382.50" stroke="#333" stroke-width="0.6"/>
<text x="481.70" y="392.70" font-size="6.6" text-anchor="middle">10<tspan dy="-2.6" font-size="4.4">5</tspan></text>
<line x1="498.90" y1="380.70" x2="498.90" y2="382.50" stroke="#333" stroke-width="0.6"/>
<text x="497.90" y="392.70" font-size="6.6" text-anchor="middle">10<tspan dy="-2.6" font-size="4.4">7</tspan></text>
<line x1="412.10" y1="319.60" x2="412.10" y2="361.10" stroke="#111" stroke-width="1.5"/>
<path d="M409.3 321.1 L412.1 315.90000000000003 L414.9 321.1 Z" fill="#111"/>
<text x="414.90" y="373.60" font-size="7.6" text-anchor="middle" textLength="17.50" lengthAdjust="spacingAndGlyphs" transform="rotate(-90 414.90 373.60)">CD20</text>
<line x1="453.50" y1="399.90" x2="498.00" y2="399.90" stroke="#111" stroke-width="1.5"/>
<path d="M497.0 397.09999999999997 L502.6 399.9 L497.0 402.7 Z" fill="#111"/>
<text x="435.30" y="402.60" font-size="7.6" textLength="12.60" lengthAdjust="spacingAndGlyphs">CD3</text>
<rect x="437.3" y="433.8" width="64.19999999999999" height="65.80000000000001" fill="none" stroke="#b5b5b5" stroke-width="0.8"/>
<line x1="437.30" y1="433.80" x2="437.30" y2="499.60" stroke="#555" stroke-width="0.8"/>
<line x1="437.30" y1="499.60" x2="501.50" y2="499.60" stroke="#555" stroke-width="0.8"/>
<path d="M439.20 460.40 L446.20 452.30 L452.60 450.50 L464.60 454.60 L467.00 466.00 L462.30 477.70 L449.60 478.80 L441.50 474.20 Z" fill="none" stroke="#555" stroke-width="0.7"/>
<g filter="url(#bl3)">
<ellipse cx="477" cy="483" rx="7" ry="13.5" fill="#6a4ab8"/>
<ellipse cx="477" cy="483.5" rx="6.2" ry="12.8" fill="#ffffff"/>
<ellipse cx="477" cy="484" rx="5.8" ry="12.2" fill="#2a1a8e"/>
<ellipse cx="477.3" cy="484.2" rx="4.8" ry="11" fill="#2246d8"/>
<ellipse cx="477.6" cy="484.4" rx="3.8" ry="9.8" fill="#1ea4d8"/>
<ellipse cx="477.8" cy="484.6" rx="2.8" ry="8.5" fill="#32b04c"/>
<ellipse cx="478" cy="484.8" rx="1.6" ry="6.5" fill="#e8e030"/>
<ellipse cx="478" cy="478.5" rx="1.0" ry="2.2" fill="#e83020"/>
</g>
<line x1="435.50" y1="436.20" x2="437.30" y2="436.20" stroke="#333" stroke-width="0.6"/>
<text x="433.10" y="438.60" font-size="6.6" text-anchor="end">10<tspan dy="-2.6" font-size="4.4">7</tspan></text>
<line x1="435.50" y1="445.00" x2="437.30" y2="445.00" stroke="#333" stroke-width="0.6"/>
<text x="433.10" y="447.40" font-size="6.6" text-anchor="end">10<tspan dy="-2.6" font-size="4.4">6</tspan></text>
<line x1="435.50" y1="454.20" x2="437.30" y2="454.20" stroke="#333" stroke-width="0.6"/>
<text x="433.10" y="456.60" font-size="6.6" text-anchor="end">10<tspan dy="-2.6" font-size="4.4">5</tspan></text>
<line x1="435.50" y1="462.70" x2="437.30" y2="462.70" stroke="#333" stroke-width="0.6"/>
<text x="433.10" y="465.10" font-size="6.6" text-anchor="end">10<tspan dy="-2.6" font-size="4.4">4</tspan></text>
<line x1="435.50" y1="472.60" x2="437.30" y2="472.60" stroke="#333" stroke-width="0.6"/>
<text x="433.10" y="475.00" font-size="6.6" text-anchor="end">10<tspan dy="-2.6" font-size="4.4">3</tspan></text>
<line x1="435.50" y1="485.80" x2="437.30" y2="485.80" stroke="#333" stroke-width="0.6"/>
<text x="432.10" y="488.20" font-size="6.6" text-anchor="end">0</text>
<line x1="435.50" y1="498.50" x2="437.30" y2="498.50" stroke="#333" stroke-width="0.6"/>
<text x="433.10" y="500.90" font-size="6.6" text-anchor="end">−10<tspan dy="-2.6" font-size="4.4">3</tspan></text>
<line x1="441.30" y1="499.60" x2="441.30" y2="501.40" stroke="#333" stroke-width="0.6"/>
<text x="440.30" y="511.60" font-size="6.6" text-anchor="middle">−10<tspan dy="-2.6" font-size="4.4">3</tspan></text>
<line x1="451.80" y1="499.60" x2="451.80" y2="501.40" stroke="#333" stroke-width="0.6"/>
<text x="451.80" y="511.60" font-size="6.6" text-anchor="middle">0</text>
<line x1="464.60" y1="499.60" x2="464.60" y2="501.40" stroke="#333" stroke-width="0.6"/>
<text x="463.60" y="511.60" font-size="6.6" text-anchor="middle">10<tspan dy="-2.6" font-size="4.4">3</tspan></text>
<line x1="482.70" y1="499.60" x2="482.70" y2="501.40" stroke="#333" stroke-width="0.6"/>
<text x="481.70" y="511.60" font-size="6.6" text-anchor="middle">10<tspan dy="-2.6" font-size="4.4">5</tspan></text>
<line x1="498.90" y1="499.60" x2="498.90" y2="501.40" stroke="#333" stroke-width="0.6"/>
<text x="497.90" y="511.60" font-size="6.6" text-anchor="middle">10<tspan dy="-2.6" font-size="4.4">7</tspan></text>
<line x1="412.10" y1="438.30" x2="412.10" y2="480.30" stroke="#111" stroke-width="1.5"/>
<path d="M409.3 439.8 L412.1 434.6 L414.9 439.8 Z" fill="#111"/>
<text x="414.90" y="492.80" font-size="7.6" text-anchor="middle" textLength="17.50" lengthAdjust="spacingAndGlyphs" transform="rotate(-90 414.90 492.80)">CD20</text>
<line x1="453.50" y1="518.80" x2="498.00" y2="518.80" stroke="#111" stroke-width="1.5"/>
<path d="M497.0 516.0000000000001 L502.6 518.8000000000001 L497.0 521.6 Z" fill="#111"/>
<text x="435.30" y="521.50" font-size="7.6" textLength="12.60" lengthAdjust="spacingAndGlyphs">CD3</text>
<rect x="437.3" y="545.0" width="64.89999999999998" height="67.0" fill="none" stroke="#b5b5b5" stroke-width="0.8"/>
<line x1="437.30" y1="545.00" x2="437.30" y2="612.00" stroke="#555" stroke-width="0.8"/>
<line x1="437.30" y1="612.00" x2="502.20" y2="612.00" stroke="#555" stroke-width="0.8"/>
<path d="M439.70 571.00 L447.30 563.50 L468.00 565.80 L473.40 578.50 L467.00 587.70 L456.00 588.00 L445.00 582.00 Z" fill="none" stroke="#555" stroke-width="0.7"/>
<g filter="url(#bl3)">
<rect x="438.80" y="568.70" width="25.40" height="23.60" rx="8" fill="#2a1a8e"/>
<rect x="440.20" y="570.30" width="22.60" height="21.00" rx="7" fill="#2246d8"/>
<rect x="442.00" y="572.00" width="19.60" height="18.00" rx="6" fill="#1ea4d8"/>
<rect x="443.70" y="573.70" width="16.60" height="14.60" rx="4.5" fill="#32b04c"/>
<ellipse cx="451.5" cy="579.5" rx="6.5" ry="3.8" fill="#e8e030"/>
<ellipse cx="455" cy="579" rx="3.0" ry="2.6" fill="#e83020"/>
<ellipse cx="448" cy="578.5" rx="1.3" ry="1.1" fill="#f08020"/>
</g>
<line x1="435.50" y1="547.30" x2="437.30" y2="547.30" stroke="#333" stroke-width="0.6"/>
<text x="433.10" y="549.70" font-size="6.6" text-anchor="end">10<tspan dy="-2.6" font-size="4.4">7</tspan></text>
<line x1="435.50" y1="557.20" x2="437.30" y2="557.20" stroke="#333" stroke-width="0.6"/>
<text x="433.10" y="559.60" font-size="6.6" text-anchor="end">10<tspan dy="-2.6" font-size="4.4">6</tspan></text>
<line x1="435.50" y1="566.20" x2="437.30" y2="566.20" stroke="#333" stroke-width="0.6"/>
<text x="433.10" y="568.60" font-size="6.6" text-anchor="end">10<tspan dy="-2.6" font-size="4.4">5</tspan></text>
<line x1="435.50" y1="575.50" x2="437.30" y2="575.50" stroke="#333" stroke-width="0.6"/>
<text x="433.10" y="577.90" font-size="6.6" text-anchor="end">10<tspan dy="-2.6" font-size="4.4">4</tspan></text>
<line x1="435.50" y1="585.00" x2="437.30" y2="585.00" stroke="#333" stroke-width="0.6"/>
<text x="433.10" y="587.40" font-size="6.6" text-anchor="end">10<tspan dy="-2.6" font-size="4.4">3</tspan></text>
<line x1="435.50" y1="597.60" x2="437.30" y2="597.60" stroke="#333" stroke-width="0.6"/>
<text x="432.10" y="600.00" font-size="6.6" text-anchor="end">0</text>
<line x1="435.50" y1="610.80" x2="437.30" y2="610.80" stroke="#333" stroke-width="0.6"/>
<text x="433.10" y="613.20" font-size="6.6" text-anchor="end">−10<tspan dy="-2.6" font-size="4.4">3</tspan></text>
<line x1="441.30" y1="612.00" x2="441.30" y2="613.80" stroke="#333" stroke-width="0.6"/>
<text x="440.30" y="624.00" font-size="6.6" text-anchor="middle">−10<tspan dy="-2.6" font-size="4.4">3</tspan></text>
<line x1="451.80" y1="612.00" x2="451.80" y2="613.80" stroke="#333" stroke-width="0.6"/>
<text x="451.80" y="624.00" font-size="6.6" text-anchor="middle">0</text>
<line x1="464.60" y1="612.00" x2="464.60" y2="613.80" stroke="#333" stroke-width="0.6"/>
<text x="463.60" y="624.00" font-size="6.6" text-anchor="middle">10<tspan dy="-2.6" font-size="4.4">3</tspan></text>
<line x1="482.70" y1="612.00" x2="482.70" y2="613.80" stroke="#333" stroke-width="0.6"/>
<text x="481.70" y="624.00" font-size="6.6" text-anchor="middle">10<tspan dy="-2.6" font-size="4.4">5</tspan></text>
<line x1="498.90" y1="612.00" x2="498.90" y2="613.80" stroke="#333" stroke-width="0.6"/>
<text x="497.90" y="624.00" font-size="6.6" text-anchor="middle">10<tspan dy="-2.6" font-size="4.4">7</tspan></text>
<line x1="412.10" y1="549.50" x2="412.10" y2="592.10" stroke="#111" stroke-width="1.5"/>
<path d="M409.3 551.0 L412.1 545.8 L414.9 551.0 Z" fill="#111"/>
<text x="414.90" y="604.60" font-size="7.6" text-anchor="middle" textLength="17.50" lengthAdjust="spacingAndGlyphs" transform="rotate(-90 414.90 604.60)">CD20</text>
<line x1="453.50" y1="631.20" x2="498.00" y2="631.20" stroke="#111" stroke-width="1.5"/>
<path d="M497.0 628.4000000000001 L502.6 631.2 L497.0 634.0 Z" fill="#111"/>
<text x="435.30" y="633.90" font-size="7.6" textLength="12.60" lengthAdjust="spacingAndGlyphs">CD3</text>
<rect x="0.5" y="0.5" width="519" height="642" fill="none" stroke="#4d4d4d" stroke-width="1"/>
</svg></body></html>
